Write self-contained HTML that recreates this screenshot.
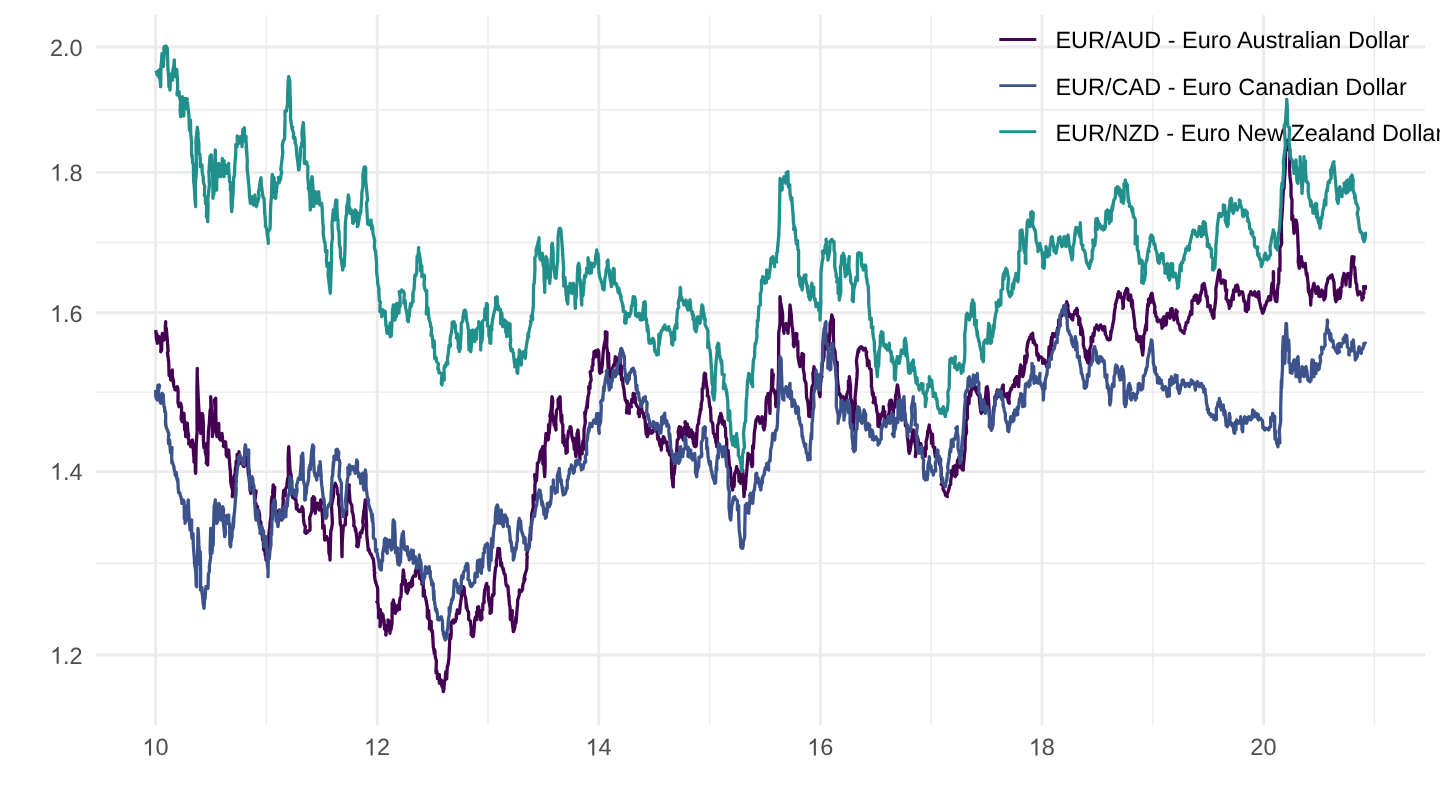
<!DOCTYPE html>
<html><head><meta charset="utf-8"><title>EUR exchange rates</title>
<style>html,body{margin:0;padding:0;background:#fff;overflow:hidden}svg{display:block;will-change:transform}body{font-family:"Liberation Sans",sans-serif}</style></head>
<body>
<svg width="1440" height="810" viewBox="0 0 1440 810">
<rect width="1440" height="810" fill="#fff"/>
<path d="M266.4 15.0 V724.8 M488.0 15.0 V724.8 M709.6 15.0 V724.8 M931.2 15.0 V724.8 M1152.8 15.0 V724.8 M1374.4 15.0 V724.8 M95.9 109.7 H1425.0 M95.9 242.5 H1425.0 M95.9 392.1 H1425.0 M95.9 563.3 H1425.0" stroke="#ebebeb" stroke-width="1.4" fill="none"/>
<path d="M155.6 15.0 V724.8 M377.2 15.0 V724.8 M598.8 15.0 V724.8 M820.4 15.0 V724.8 M1042.0 15.0 V724.8 M1263.6 15.0 V724.8 M95.9 47.0 H1425.0 M95.9 172.4 H1425.0 M95.9 312.6 H1425.0 M95.9 471.6 H1425.0 M95.9 655.0 H1425.0" stroke="#ebebeb" stroke-width="2.8" fill="none"/>
<g font-family="Liberation Sans, sans-serif" font-size="23.5" fill="#4d4d4d" text-rendering="geometricPrecision">
<text x="82.60" y="56.0" text-anchor="end">2.0</text>
<text x="82.60" y="180.8" text-anchor="end">.8</text>
<path transform="translate(49.93,180.8) scale(0.011475,-0.011475)" d="M763 0L583 0L583 1147Q518 1085 412.5 1023Q307 961 223 930L223 1104Q374 1175 487 1276Q600 1377 647 1466L763 1466Z"/>
<text x="82.60" y="321.9" text-anchor="end">.6</text>
<path transform="translate(49.93,321.9) scale(0.011475,-0.011475)" d="M763 0L583 0L583 1147Q518 1085 412.5 1023Q307 961 223 930L223 1104Q374 1175 487 1276Q600 1377 647 1466L763 1466Z"/>
<text x="82.60" y="479.8" text-anchor="end">.4</text>
<path transform="translate(49.93,479.8) scale(0.011475,-0.011475)" d="M763 0L583 0L583 1147Q518 1085 412.5 1023Q307 961 223 930L223 1104Q374 1175 487 1276Q600 1377 647 1466L763 1466Z"/>
<text x="82.60" y="663.8" text-anchor="end">.2</text>
<path transform="translate(49.93,663.8) scale(0.011475,-0.011475)" d="M763 0L583 0L583 1147Q518 1085 412.5 1023Q307 961 223 930L223 1104Q374 1175 487 1276Q600 1377 647 1466L763 1466Z"/>
<path transform="translate(142.33,755.4) scale(0.011475,-0.011475)" d="M763 0L583 0L583 1147Q518 1085 412.5 1023Q307 961 223 930L223 1104Q374 1175 487 1276Q600 1377 647 1466L763 1466Z"/>
<text x="155.40" y="755.4">0</text>
<path transform="translate(363.93,755.4) scale(0.011475,-0.011475)" d="M763 0L583 0L583 1147Q518 1085 412.5 1023Q307 961 223 930L223 1104Q374 1175 487 1276Q600 1377 647 1466L763 1466Z"/>
<text x="377.00" y="755.4">2</text>
<path transform="translate(585.53,755.4) scale(0.011475,-0.011475)" d="M763 0L583 0L583 1147Q518 1085 412.5 1023Q307 961 223 930L223 1104Q374 1175 487 1276Q600 1377 647 1466L763 1466Z"/>
<text x="598.60" y="755.4">4</text>
<path transform="translate(807.13,755.4) scale(0.011475,-0.011475)" d="M763 0L583 0L583 1147Q518 1085 412.5 1023Q307 961 223 930L223 1104Q374 1175 487 1276Q600 1377 647 1466L763 1466Z"/>
<text x="820.20" y="755.4">6</text>
<path transform="translate(1028.73,755.4) scale(0.011475,-0.011475)" d="M763 0L583 0L583 1147Q518 1085 412.5 1023Q307 961 223 930L223 1104Q374 1175 487 1276Q600 1377 647 1466L763 1466Z"/>
<text x="1041.80" y="755.4">8</text>
<text x="1263.4" y="755.4" text-anchor="middle">20</text>
</g>
<g font-family="Liberation Sans, sans-serif" font-size="23.5" fill="#000" text-rendering="geometricPrecision">
<path d="M999.3 39.5 H1036.3" stroke="#440154" stroke-width="2.8"/>
<text x="1055.4" y="48.0">EUR/AUD - Euro Australian Dollar</text>
<path d="M999.3 85.6 H1036.3" stroke="#3b528b" stroke-width="2.8"/>
<text x="1055.4" y="95.0">EUR/CAD - Euro Canadian Dollar</text>
<path d="M999.3 131.7 H1036.3" stroke="#21908c" stroke-width="2.8"/>
<text x="1055.4" y="141.0">EUR/NZD - Euro New Zealand Dollar</text>
</g>
<path d="M155.7 330.0 L156.7 340.6 L156.2 337.1 L156.9 333.9 L157.3 343.3 L157.1 337.5 L158.2 340.9 L158.2 340.5 L159.0 336.7 L159.4 340.4 L160.1 338.5 L161.3 349.7 L160.7 351.7 L161.0 348.2 L161.6 350.5 L161.8 343.0 L162.3 333.3 L163.2 335.9 L163.2 339.6 L163.8 334.0 L164.0 340.0 L164.7 335.8 L165.3 332.2 L165.3 326.0 L165.7 321.7 L165.6 330.0 L166.3 328.2 L166.9 335.6 L167.3 340.0 L168.1 351.2 L167.5 352.7 L168.7 361.7 L169.0 371.7 L169.1 375.5 L170.7 373.0 L170.7 380.0 L170.5 376.6 L171.5 372.3 L172.0 376.3 L172.3 370.0 L172.3 375.9 L173.7 382.1 L172.9 380.0 L174.0 386.7 L174.8 388.0 L174.8 389.6 L175.2 387.4 L175.7 390.0 L176.1 388.5 L176.7 387.5 L176.9 388.7 L177.3 386.7 L177.9 389.0 L178.1 392.2 L178.0 402.6 L179.0 406.7 L179.2 405.9 L179.7 405.5 L180.0 405.0 L180.7 403.3 L181.6 407.1 L181.5 413.2 L181.1 419.3 L182.3 421.7 L182.3 419.0 L182.7 419.8 L183.4 415.3 L184.0 413.3 L184.7 429.8 L184.7 421.1 L185.2 424.4 L185.7 436.7 L186.4 430.1 L186.3 425.1 L186.6 424.7 L187.3 423.3 L187.8 431.5 L188.7 435.5 L188.0 438.1 L189.0 440.0 L188.6 443.8 L190.7 443.0 L190.1 444.2 L190.7 446.7 L191.1 445.7 L191.2 443.5 L192.3 446.0 L192.3 440.0 L192.9 443.8 L193.6 454.3 L193.9 457.2 L194.0 460.0 L193.9 461.9 L195.3 463.4 L195.3 471.6 L195.7 473.3 L196.2 443.9 L197.1 431.6 L196.9 390.7 L197.3 368.3 L197.2 373.9 L198.2 397.1 L199.2 415.0 L199.0 423.3 L200.0 430.2 L199.3 425.1 L201.5 432.8 L200.7 433.3 L200.6 428.9 L202.2 421.5 L202.0 413.3 L202.8 415.0 L203.4 424.4 L203.4 440.3 L203.7 443.3 L203.9 447.7 L205.3 443.7 L205.9 444.8 L205.3 450.0 L205.3 452.8 L206.3 456.0 L206.6 460.3 L206.2 462.9 L207.7 465.0 L208.0 451.5 L207.6 456.0 L208.4 431.8 L209.3 423.3 L210.1 410.4 L210.9 408.1 L210.7 396.7 L211.2 403.3 L211.9 424.3 L212.4 424.8 L212.3 436.7 L213.6 428.1 L213.1 431.0 L214.0 428.2 L214.0 423.3 L214.4 420.7 L215.1 408.4 L214.5 399.7 L215.7 398.3 L215.9 416.2 L216.1 430.8 L217.0 436.7 L217.5 427.6 L218.6 431.0 L218.4 429.6 L218.7 423.3 L218.9 430.8 L218.9 432.2 L219.6 438.8 L220.3 440.0 L221.1 436.5 L220.7 439.0 L221.3 437.7 L222.0 433.3 L222.8 441.4 L222.9 441.5 L223.7 442.1 L223.7 446.7 L223.3 446.0 L225.0 442.4 L224.5 443.6 L225.3 441.7 L225.6 442.1 L226.3 453.6 L226.2 455.1 L227.0 456.7 L227.2 454.8 L228.6 451.9 L228.2 452.0 L228.7 450.0 L228.9 453.8 L230.1 469.4 L230.0 469.0 L230.3 470.0 L230.8 482.5 L231.5 486.3 L232.6 490.5 L232.3 496.7 L233.3 493.3 L234.0 478.6 L233.4 485.6 L234.0 476.7 L234.9 474.0 L235.2 475.0 L235.3 469.9 L235.7 466.7 L236.0 465.2 L236.2 461.0 L237.1 461.1 L237.3 460.0 L237.1 454.5 L238.1 458.4 L239.2 455.1 L239.0 451.7 L239.3 461.6 L239.2 453.9 L240.8 460.0 L240.7 463.3 L241.4 461.7 L241.7 462.4 L241.9 462.5 L242.3 460.0 L242.2 461.5 L243.0 465.6 L244.0 463.7 L244.0 466.7 L245.2 460.1 L244.6 465.7 L245.7 457.6 L245.7 456.7 L245.8 459.0 L246.6 460.0 L247.1 461.7 L247.3 463.3 L247.7 464.6 L248.5 475.3 L249.4 470.8 L249.0 476.7 L249.5 481.4 L250.3 489.3 L250.1 489.8 L250.7 493.3 L251.1 492.5 L250.4 491.2 L251.8 487.8 L252.7 483.3 L253.4 488.8 L253.3 489.5 L253.8 489.5 L254.3 490.0 L254.7 494.5 L256.1 491.0 L254.7 502.4 L256.0 503.3 L255.8 508.6 L256.6 505.6 L257.4 506.2 L257.7 510.0 L257.4 510.5 L258.7 511.6 L258.7 510.3 L259.3 513.3 L259.6 515.3 L259.8 525.9 L260.8 521.8 L261.0 530.0 L261.5 532.4 L261.5 531.2 L262.2 535.8 L262.7 540.0 L263.3 540.8 L263.7 548.3 L263.5 549.5 L264.3 550.0 L265.1 552.5 L265.2 555.1 L265.5 551.5 L266.0 560.0 L266.1 554.2 L266.3 551.2 L268.0 552.9 L268.0 550.0 L268.5 539.3 L269.3 529.6 L268.9 540.5 L270.0 523.3 L271.1 515.4 L271.1 512.4 L271.4 500.0 L272.0 496.7 L273.1 495.1 L272.6 492.8 L273.3 485.0 L273.0 485.7 L274.8 487.2 L274.2 498.1 L275.3 503.3 L275.1 514.1 L276.2 515.3 L277.1 515.2 L277.3 516.7 L278.4 516.1 L278.2 513.4 L278.2 511.1 L279.3 510.0 L280.3 511.1 L281.0 519.5 L281.2 512.5 L281.3 520.0 L281.2 517.8 L283.3 508.4 L282.8 508.0 L283.3 500.0 L283.0 499.1 L283.7 490.5 L285.2 495.6 L285.3 490.0 L285.7 488.4 L285.8 488.9 L286.7 486.7 L287.5 479.2 L288.4 476.6 L288.1 459.4 L288.7 446.7 L288.8 449.4 L289.8 466.0 L290.0 470.0 L291.2 475.9 L291.0 485.9 L291.5 486.4 L292.0 493.3 L292.1 495.0 L292.7 497.2 L294.0 496.1 L294.0 498.3 L295.1 498.8 L295.7 499.1 L294.7 499.1 L296.0 500.0 L296.4 508.9 L297.1 504.6 L296.9 508.3 L298.0 510.0 L298.7 511.1 L299.5 510.3 L300.0 510.3 L300.0 511.7 L300.2 510.1 L299.8 509.9 L301.9 510.6 L302.0 506.7 L302.3 507.3 L303.0 508.9 L303.5 518.9 L304.0 523.3 L304.7 525.5 L305.4 526.3 L304.8 532.5 L306.0 533.3 L306.5 532.8 L307.2 532.4 L307.5 532.5 L308.0 531.7 L308.0 530.9 L308.5 530.8 L309.5 530.4 L310.0 530.0 L310.1 527.1 L309.7 517.7 L311.8 511.3 L312.0 506.7 L312.1 498.3 L312.9 499.7 L313.3 496.7 L314.1 497.4 L314.8 498.6 L314.5 501.3 L315.3 513.3 L315.4 510.2 L316.4 506.8 L316.3 505.2 L317.3 503.3 L317.5 504.5 L317.9 504.5 L318.5 506.6 L319.3 510.0 L319.1 508.2 L319.7 506.4 L320.7 500.0 L321.5 502.4 L320.8 506.6 L322.1 511.9 L322.7 520.0 L322.7 528.2 L323.7 528.1 L324.1 525.7 L324.7 540.0 L325.4 537.1 L325.6 538.0 L326.1 539.0 L326.7 536.7 L326.7 537.0 L327.1 537.6 L328.5 542.4 L328.7 543.3 L328.9 552.5 L329.9 556.7 L330.0 560.0 L330.4 544.2 L330.8 530.5 L331.3 530.0 L332.4 523.2 L331.5 505.6 L333.4 496.5 L333.3 486.7 L334.4 486.2 L335.0 485.5 L334.5 485.9 L335.3 483.3 L337.0 488.1 L335.5 485.2 L337.0 487.8 L337.3 493.3 L337.6 493.9 L338.7 495.8 L338.5 504.1 L339.3 506.7 L339.6 509.3 L340.3 523.6 L340.5 524.5 L341.3 526.7 L342.0 556.7 L342.2 542.9 L342.8 533.4 L343.3 526.7 L344.4 524.9 L344.9 525.0 L345.5 524.4 L345.3 523.3 L345.5 515.7 L346.6 515.1 L346.8 500.8 L347.3 496.7 L348.0 494.5 L347.8 488.7 L349.0 488.2 L349.3 485.0 L349.0 487.9 L350.1 501.6 L350.7 503.3 L351.9 505.6 L352.1 511.8 L352.4 511.8 L352.7 513.3 L353.2 515.1 L354.0 522.3 L353.7 526.0 L354.7 526.7 L355.0 527.5 L355.3 530.5 L355.6 528.3 L356.7 536.7 L357.1 541.7 L356.7 546.2 L358.0 546.7 L358.9 541.0 L358.5 537.5 L360.0 537.4 L360.0 533.3 L360.2 532.6 L361.0 532.2 L362.0 532.8 L362.0 530.0 L362.7 529.4 L363.4 525.0 L362.7 521.6 L364.0 510.0 L364.5 508.6 L364.8 504.2 L365.3 500.0 L366.0 508.4 L366.3 519.0 L366.7 526.7 L366.5 527.1 L366.8 535.4 L368.0 546.7 L368.1 547.4 L368.1 550.2 L369.2 549.8 L370.0 553.3 L370.9 553.9 L370.8 554.4 L371.1 554.1 L372.0 556.7 L372.5 558.0 L373.4 559.3 L374.4 569.3 L374.0 570.0 L374.8 572.9 L374.3 574.2 L374.8 578.3 L376.0 583.3 L377.7 588.2 L377.8 601.8 L376.8 601.8 L378.0 603.3 L378.6 611.5 L378.5 617.8 L380.4 609.7 L380.0 626.7 L380.6 624.2 L381.1 616.8 L381.9 616.0 L382.0 613.3 L382.4 615.7 L383.0 614.7 L383.3 618.9 L384.0 620.0 L384.6 629.2 L384.6 626.9 L386.1 632.7 L386.0 635.0 L385.7 634.4 L387.4 625.2 L388.1 624.0 L388.0 620.0 L388.9 620.9 L387.9 630.1 L389.4 627.7 L390.0 633.3 L390.1 627.6 L390.9 630.1 L390.9 629.9 L392.0 623.3 L392.2 602.8 L392.6 610.3 L393.3 600.0 L394.2 606.3 L394.3 603.8 L395.3 605.8 L395.3 613.3 L396.1 610.3 L396.0 610.5 L397.2 610.5 L397.3 610.0 L398.5 605.3 L398.3 605.2 L399.6 609.3 L399.3 603.3 L400.2 597.7 L400.9 597.0 L401.0 595.9 L401.3 590.0 L401.3 584.5 L401.4 585.9 L402.5 583.9 L403.3 570.0 L404.2 576.7 L403.7 577.5 L404.1 579.2 L405.3 580.0 L405.4 583.2 L406.1 591.6 L407.1 584.9 L407.3 593.3 L407.8 590.5 L408.6 590.0 L408.3 583.9 L409.3 583.3 L409.7 585.7 L410.7 585.6 L410.9 585.9 L411.3 586.7 L411.7 580.2 L412.6 585.3 L412.4 578.2 L413.3 576.7 L413.9 576.2 L413.8 575.7 L415.6 576.1 L415.3 571.7 L415.9 569.8 L415.8 570.8 L417.8 563.8 L417.3 563.3 L417.3 567.4 L418.0 572.9 L418.3 567.9 L419.3 573.3 L419.6 578.4 L419.5 575.4 L420.8 578.7 L421.3 580.0 L422.5 583.7 L421.8 584.0 L422.9 580.9 L423.3 586.7 L423.3 596.0 L424.3 590.2 L424.4 595.6 L425.3 596.7 L426.2 600.8 L426.3 601.4 L427.1 605.8 L427.3 606.7 L427.3 617.1 L428.2 618.7 L428.6 610.3 L429.3 620.0 L429.7 622.8 L429.3 628.8 L431.2 621.4 L431.3 630.0 L432.2 632.5 L432.3 630.7 L432.5 631.8 L433.3 646.7 L434.4 653.0 L434.3 653.3 L434.7 649.6 L435.3 656.7 L436.4 661.1 L435.9 672.7 L436.2 669.2 L437.3 673.3 L437.5 678.7 L438.5 677.1 L439.4 674.8 L439.3 683.3 L439.9 680.5 L440.4 680.4 L441.2 681.1 L441.3 680.0 L441.9 686.4 L443.2 685.0 L442.6 684.8 L443.3 691.7 L443.8 690.3 L444.3 683.4 L444.4 680.8 L445.3 680.0 L445.3 677.8 L445.8 671.7 L446.7 678.8 L447.3 666.7 L448.0 665.0 L448.3 662.9 L448.9 658.4 L449.3 650.0 L450.0 634.6 L450.8 633.9 L450.7 638.7 L451.3 633.3 L450.9 623.0 L452.2 621.1 L453.7 623.1 L453.3 620.0 L453.8 621.3 L454.2 621.3 L454.6 620.7 L455.3 621.7 L456.2 618.3 L456.4 613.8 L456.2 619.1 L457.3 610.0 L457.7 610.3 L458.8 611.8 L459.3 611.6 L459.3 613.3 L459.7 610.6 L460.2 605.2 L461.5 596.4 L461.3 593.3 L462.4 593.0 L462.8 590.2 L462.8 591.7 L463.3 586.7 L463.9 592.3 L464.2 587.7 L464.4 594.5 L465.3 596.7 L465.8 599.3 L466.3 607.8 L466.3 603.6 L467.3 610.0 L468.4 611.8 L468.6 613.1 L468.6 619.6 L469.3 620.0 L470.5 621.2 L470.5 622.3 L471.4 629.7 L471.3 630.0 L471.1 634.6 L472.1 631.4 L472.7 636.7 L473.5 636.0 L474.3 626.5 L474.5 623.7 L474.7 620.0 L475.5 617.0 L476.2 617.6 L477.0 619.5 L476.7 616.7 L476.6 612.0 L477.8 616.2 L477.6 607.3 L478.7 606.7 L478.3 614.5 L480.1 610.3 L480.4 615.2 L480.7 620.0 L481.4 619.5 L482.0 618.7 L481.6 610.6 L482.7 610.0 L482.9 603.4 L484.2 602.6 L483.9 599.4 L484.7 590.0 L485.2 589.1 L486.3 584.5 L486.3 587.5 L486.7 583.3 L486.0 585.4 L488.2 586.9 L488.2 594.6 L488.7 600.0 L489.3 602.8 L490.3 608.8 L490.0 613.3 L490.4 608.5 L491.3 612.3 L491.7 604.8 L492.0 596.7 L492.6 594.8 L493.0 595.8 L494.1 594.0 L494.0 590.0 L494.2 581.5 L494.7 576.1 L495.5 567.6 L496.0 566.7 L496.4 566.0 L496.4 560.6 L497.0 557.2 L498.0 548.3 L498.2 553.6 L498.4 549.3 L499.4 548.7 L500.0 556.7 L500.4 558.7 L500.6 565.1 L501.5 562.5 L502.0 566.7 L502.5 567.6 L503.5 571.1 L503.4 568.7 L504.0 573.3 L505.0 575.0 L505.1 574.4 L505.8 582.0 L506.0 583.3 L506.0 584.5 L506.8 586.3 L506.8 585.1 L508.0 586.7 L508.6 596.4 L508.8 595.1 L509.4 604.3 L510.0 606.7 L510.3 612.8 L510.3 619.4 L512.3 610.6 L512.0 620.0 L513.2 630.3 L513.2 622.9 L513.3 631.7 L514.2 629.7 L515.0 626.5 L514.3 627.3 L515.3 623.3 L515.9 617.0 L516.0 623.0 L517.2 607.8 L517.3 606.7 L517.5 605.9 L517.7 599.9 L519.3 594.9 L519.3 590.0 L520.2 591.1 L520.5 590.3 L521.0 590.3 L521.3 591.7 L521.8 590.9 L522.5 589.7 L522.8 585.2 L523.3 583.3 L525.1 578.9 L524.0 581.4 L524.0 578.9 L525.3 573.3 L526.7 569.5 L526.9 565.5 L527.0 558.8 L527.3 556.7 L526.8 554.6 L529.2 543.1 L529.4 540.8 L529.3 540.0 L529.8 535.7 L530.5 539.6 L531.1 527.2 L531.3 526.7 L531.4 524.1 L531.7 513.8 L532.8 509.8 L533.3 506.7 L533.0 495.3 L534.9 499.4 L534.9 484.0 L535.3 483.3 L534.6 474.6 L536.5 480.6 L537.4 465.6 L537.3 463.3 L538.5 462.1 L538.6 462.4 L538.7 461.9 L539.3 460.0 L539.3 458.7 L540.4 451.6 L540.1 453.7 L541.3 450.0 L542.2 449.5 L542.1 448.8 L542.7 446.7 L542.8 463.8 L544.0 465.4 L544.2 470.2 L544.7 476.7 L545.2 465.7 L544.9 448.7 L546.0 433.3 L546.1 436.0 L548.0 437.3 L546.5 437.8 L548.0 440.0 L548.6 438.6 L548.5 424.6 L549.2 433.5 L550.0 423.3 L550.5 416.2 L549.8 416.1 L551.1 410.3 L552.0 396.7 L552.8 401.0 L552.0 412.4 L553.4 420.1 L554.0 423.3 L554.2 425.3 L555.4 426.3 L555.2 426.9 L556.0 430.0 L555.8 419.9 L556.5 410.4 L558.3 407.6 L558.0 400.0 L558.9 398.2 L559.4 398.1 L559.1 397.9 L560.0 396.7 L560.5 407.5 L561.1 421.2 L561.8 414.9 L562.0 423.3 L562.8 424.7 L562.9 442.8 L564.0 435.4 L564.0 443.3 L564.7 445.8 L565.1 445.2 L565.8 446.7 L566.0 453.3 L567.3 452.3 L567.2 442.6 L567.1 440.6 L568.0 436.7 L567.9 435.5 L568.6 431.0 L569.8 431.7 L570.0 426.7 L570.8 427.1 L571.1 428.3 L571.8 436.1 L572.0 436.7 L573.3 442.2 L572.9 437.8 L573.9 438.4 L574.0 446.7 L574.2 449.1 L575.2 448.6 L575.4 452.7 L576.0 456.7 L576.3 450.4 L576.6 443.2 L577.0 433.6 L578.0 430.0 L578.9 442.3 L579.2 449.3 L579.7 449.1 L580.0 460.0 L579.4 450.8 L581.7 451.8 L582.2 453.8 L582.0 450.0 L583.0 441.0 L583.4 449.3 L584.0 436.6 L584.0 430.0 L585.3 422.4 L584.7 412.5 L585.2 415.1 L586.0 410.0 L586.8 405.6 L587.8 398.6 L587.3 407.6 L588.0 396.7 L589.0 392.9 L588.7 386.7 L590.0 388.4 L590.0 383.3 L591.2 380.0 L590.2 371.9 L592.2 370.3 L592.0 366.7 L593.0 364.9 L593.0 359.2 L593.7 358.2 L594.0 351.7 L594.1 353.2 L595.1 353.9 L596.1 354.9 L596.0 356.7 L595.6 350.7 L597.0 354.0 L597.3 355.1 L598.0 350.0 L598.7 351.9 L599.5 371.7 L599.9 372.4 L600.0 373.3 L600.5 370.5 L601.8 371.9 L601.3 371.5 L602.0 366.7 L602.4 363.8 L602.9 355.8 L603.7 347.4 L604.0 346.7 L604.3 344.4 L605.4 339.4 L605.3 331.7 L605.8 332.6 L607.0 332.4 L606.7 346.5 L607.3 350.0 L608.2 368.7 L608.6 353.1 L609.1 373.9 L609.3 380.0 L609.6 378.8 L610.5 378.2 L610.8 377.7 L611.3 376.7 L612.7 370.5 L611.5 375.0 L612.5 367.5 L613.3 366.7 L613.5 364.8 L614.1 365.0 L614.6 364.2 L615.3 356.7 L616.1 359.2 L616.6 361.8 L616.4 357.4 L617.3 370.0 L618.7 365.5 L617.5 366.9 L619.5 361.1 L618.5 360.9 L619.9 360.9 L620.0 353.3 L620.5 374.3 L621.3 365.8 L621.3 376.7 L621.6 379.9 L622.1 377.7 L622.2 377.5 L623.3 386.7 L624.0 388.9 L624.3 393.5 L625.2 399.3 L625.3 400.0 L626.8 402.2 L626.5 402.6 L627.3 401.1 L627.3 403.3 L626.5 412.9 L627.8 412.9 L628.9 412.7 L629.3 413.3 L629.2 404.3 L631.5 406.8 L630.7 406.2 L631.3 403.3 L631.7 399.3 L633.3 401.8 L633.0 395.6 L633.3 393.3 L634.5 393.7 L634.6 396.4 L635.3 397.5 L635.3 400.0 L635.5 401.4 L635.5 402.8 L636.7 405.7 L637.3 406.7 L638.8 408.5 L638.1 413.7 L639.0 409.5 L639.3 416.7 L639.7 413.3 L641.0 405.7 L640.7 407.9 L641.3 403.3 L641.5 406.2 L642.0 412.7 L642.8 412.3 L643.3 413.3 L644.0 417.9 L644.2 415.7 L645.1 420.5 L645.3 423.3 L646.2 434.1 L647.3 424.9 L646.5 432.7 L647.3 436.7 L647.8 435.2 L648.3 433.9 L649.4 430.3 L649.3 428.3 L649.9 431.6 L650.8 430.5 L651.0 431.1 L651.3 433.3 L652.2 433.0 L652.4 431.4 L653.2 431.9 L653.3 430.0 L654.1 429.2 L654.0 425.1 L654.6 428.9 L655.3 423.3 L655.8 424.7 L656.4 431.1 L656.4 425.4 L657.3 433.3 L657.7 439.1 L657.9 435.5 L659.0 438.3 L659.3 440.0 L659.1 440.7 L660.1 446.0 L660.6 441.4 L661.3 450.0 L661.8 440.3 L661.8 439.7 L662.4 443.8 L663.3 436.7 L664.0 440.3 L663.8 437.0 L664.5 438.4 L665.3 441.7 L665.6 442.7 L666.9 442.2 L667.0 444.7 L667.3 446.7 L667.6 450.6 L668.6 449.2 L668.5 450.5 L669.3 453.3 L669.5 454.5 L670.6 455.6 L671.5 455.2 L671.3 463.3 L671.9 478.5 L671.9 474.7 L672.9 485.9 L673.3 486.7 L673.4 470.8 L674.1 474.7 L674.9 466.6 L675.3 456.7 L675.8 453.8 L676.8 455.2 L676.7 451.6 L677.3 440.0 L679.0 438.2 L678.1 432.1 L678.3 430.7 L679.3 426.7 L679.6 428.2 L680.8 428.7 L680.8 427.2 L681.3 433.3 L681.7 436.1 L683.3 439.4 L682.4 434.0 L683.3 440.0 L683.6 432.5 L684.5 427.3 L685.9 436.1 L685.3 421.7 L684.9 422.6 L686.3 423.9 L687.3 424.0 L687.3 426.7 L687.7 428.6 L688.7 427.3 L688.5 435.1 L689.3 436.7 L690.4 432.7 L690.1 430.5 L690.7 431.3 L691.3 430.0 L691.9 437.0 L692.6 438.9 L692.8 432.3 L693.3 440.0 L693.1 441.6 L694.3 446.0 L695.1 443.0 L695.3 446.7 L696.2 445.9 L696.3 433.2 L696.3 445.5 L697.3 426.7 L697.8 424.5 L698.6 423.8 L698.7 420.3 L699.3 416.7 L699.9 414.0 L700.4 409.4 L700.9 410.5 L701.3 403.3 L702.2 399.8 L702.2 388.6 L703.1 388.7 L703.3 383.3 L703.6 383.0 L704.1 375.3 L704.7 373.3 L705.6 373.9 L705.7 384.1 L705.6 377.3 L706.7 386.7 L707.4 389.8 L707.6 393.9 L707.3 395.9 L708.7 396.7 L709.8 407.3 L709.8 406.1 L710.6 408.0 L710.7 413.3 L710.9 415.2 L711.0 420.7 L712.4 422.8 L712.7 423.3 L712.9 426.6 L713.4 433.4 L714.5 434.2 L714.7 436.7 L715.6 439.1 L715.8 441.7 L716.5 444.1 L716.7 446.7 L717.6 437.2 L717.2 441.7 L717.6 425.4 L718.7 423.3 L719.5 416.7 L720.5 418.7 L719.5 422.4 L720.7 413.3 L721.0 413.8 L722.0 417.0 L721.8 418.3 L722.7 420.0 L722.7 424.3 L723.2 423.5 L724.3 421.4 L724.7 426.7 L725.5 428.2 L725.7 436.7 L726.7 439.4 L726.7 440.0 L726.7 450.3 L728.1 452.6 L728.0 450.4 L728.7 456.7 L729.5 468.5 L730.3 467.5 L730.9 476.0 L730.7 476.7 L731.6 477.8 L731.4 480.9 L731.7 485.9 L732.7 490.0 L733.0 485.0 L734.2 484.8 L734.1 486.5 L734.7 473.3 L735.6 473.0 L735.5 471.6 L735.5 472.6 L736.7 466.7 L736.5 470.6 L737.3 468.9 L738.9 472.2 L738.7 476.7 L739.2 481.5 L738.9 480.6 L740.5 482.4 L740.7 483.3 L740.8 482.9 L741.9 471.6 L742.5 481.2 L742.7 470.0 L743.1 478.7 L743.7 490.5 L744.0 496.7 L745.2 483.6 L745.3 489.6 L746.0 479.1 L746.0 476.7 L746.2 476.3 L746.7 471.7 L747.9 456.5 L748.0 453.3 L748.3 455.0 L749.0 454.7 L749.6 454.8 L750.0 456.7 L751.2 461.6 L751.2 464.4 L751.9 466.2 L752.0 466.7 L752.6 465.1 L752.6 445.8 L753.4 448.3 L754.0 440.0 L754.3 432.7 L755.5 425.3 L754.9 429.4 L756.0 420.0 L756.5 419.7 L757.5 417.1 L757.5 418.4 L758.0 416.7 L758.9 418.2 L759.1 421.2 L760.2 418.9 L760.0 423.3 L759.9 421.6 L760.4 419.8 L761.3 418.6 L762.0 416.7 L762.6 418.1 L763.3 428.2 L763.4 427.4 L764.0 430.0 L764.9 425.5 L765.8 411.9 L765.9 409.9 L766.0 403.3 L766.6 396.9 L767.6 396.0 L767.6 401.1 L768.0 393.3 L768.4 401.9 L769.5 397.5 L769.3 401.6 L770.0 413.3 L770.1 395.9 L771.4 389.0 L771.8 375.4 L772.0 370.0 L772.1 373.8 L773.3 374.4 L772.5 388.1 L774.0 390.0 L775.2 394.6 L775.7 398.5 L775.6 404.8 L776.0 406.7 L776.2 394.6 L776.6 405.2 L777.3 391.6 L778.0 390.0 L778.5 373.8 L778.7 333.4 L780.0 323.8 L780.0 296.7 L780.7 308.6 L780.6 306.4 L780.9 303.5 L782.0 310.0 L782.7 315.0 L782.6 322.0 L783.9 330.7 L784.0 333.3 L783.5 330.5 L784.5 329.5 L786.0 328.6 L786.0 323.3 L786.5 329.6 L786.9 329.8 L787.1 327.3 L788.0 333.3 L788.4 326.4 L789.2 322.8 L789.5 317.1 L790.0 305.0 L791.4 315.7 L790.7 311.7 L791.3 315.6 L792.0 326.7 L792.6 328.3 L793.5 341.0 L793.3 344.8 L794.0 346.7 L794.1 344.4 L795.0 340.4 L795.5 339.5 L796.0 333.3 L796.9 333.9 L796.4 344.1 L797.8 341.2 L798.0 356.7 L798.8 361.2 L799.2 363.8 L799.8 365.2 L800.0 366.7 L800.6 360.0 L801.3 357.1 L801.6 360.3 L802.0 353.3 L802.4 364.4 L803.6 354.4 L803.2 368.9 L804.0 373.3 L804.3 373.9 L804.4 379.6 L805.3 381.4 L806.0 383.3 L806.4 392.0 L806.6 397.4 L807.4 400.3 L808.0 403.3 L808.7 412.6 L808.8 416.2 L809.5 410.0 L810.0 416.7 L810.4 403.4 L810.5 409.8 L811.5 391.0 L812.0 386.7 L813.5 383.7 L812.8 373.1 L813.2 373.1 L814.0 366.7 L814.8 370.9 L815.1 371.7 L815.6 372.5 L816.0 373.3 L816.8 374.2 L817.1 378.1 L817.5 375.2 L818.0 383.3 L818.1 386.4 L818.8 385.1 L819.2 393.4 L820.0 396.7 L820.5 385.6 L821.1 378.9 L821.4 377.0 L822.0 376.7 L821.5 375.5 L822.8 358.1 L823.1 360.9 L824.0 356.7 L824.2 345.6 L825.0 338.5 L825.4 335.3 L826.0 333.3 L826.8 337.7 L826.8 337.6 L826.5 348.2 L828.0 350.0 L828.1 345.3 L828.9 345.6 L830.0 330.4 L830.0 330.0 L830.0 323.2 L830.0 325.4 L831.6 317.8 L831.7 315.0 L832.5 316.9 L832.3 322.2 L833.5 319.5 L833.3 333.3 L833.7 346.6 L833.5 347.3 L835.0 351.2 L835.3 356.7 L835.5 357.4 L836.0 365.3 L837.2 362.3 L837.3 376.7 L838.1 385.6 L838.8 389.6 L837.5 387.4 L839.3 393.3 L839.6 395.0 L840.6 395.0 L840.3 394.3 L841.3 400.0 L841.7 397.0 L842.6 398.8 L842.8 399.2 L843.3 396.7 L843.8 400.3 L844.2 397.9 L845.1 402.4 L845.3 403.3 L845.2 403.0 L846.6 397.0 L847.0 393.8 L847.3 393.3 L848.4 389.8 L848.4 380.9 L849.1 386.7 L849.3 376.7 L849.7 379.6 L850.5 386.1 L850.6 398.3 L851.3 400.0 L852.0 413.4 L852.2 401.6 L852.5 421.8 L853.3 430.0 L853.8 423.8 L854.2 416.0 L854.6 411.5 L855.3 403.3 L855.0 398.0 L856.1 387.1 L857.0 376.2 L857.3 370.0 L856.4 361.1 L858.2 349.8 L858.6 352.2 L859.3 348.3 L860.1 347.3 L859.9 347.5 L861.3 348.0 L861.3 346.7 L862.0 347.8 L862.4 348.4 L862.4 347.6 L863.3 350.0 L863.4 349.4 L864.6 348.6 L864.8 348.9 L865.3 348.3 L866.2 352.4 L866.8 352.0 L866.2 354.3 L867.3 360.0 L867.4 365.7 L868.3 362.1 L869.0 361.0 L869.3 366.7 L869.7 368.6 L871.0 369.4 L871.5 381.9 L871.3 386.7 L871.9 387.3 L872.4 394.8 L873.3 392.8 L873.3 396.7 L873.9 399.8 L873.1 402.6 L875.0 397.5 L875.3 403.3 L875.7 404.0 L876.2 406.0 L876.6 410.1 L877.3 413.3 L877.7 415.1 L878.0 426.1 L878.9 414.3 L879.3 426.7 L879.9 422.4 L879.8 420.2 L881.0 417.6 L881.3 416.7 L882.4 412.3 L882.8 415.2 L883.1 414.5 L883.3 406.7 L883.7 414.3 L884.9 411.8 L884.6 412.7 L885.3 423.3 L885.9 421.3 L886.1 418.9 L886.5 419.7 L887.3 418.3 L889.3 412.4 L889.4 403.8 L888.9 405.7 L889.3 403.3 L890.1 402.3 L889.9 400.7 L890.7 400.9 L891.3 400.0 L891.8 402.9 L891.7 408.9 L893.2 405.2 L893.3 416.7 L893.5 407.2 L894.1 404.5 L894.9 407.1 L895.3 400.0 L895.7 394.7 L896.0 394.8 L896.2 394.0 L897.3 385.0 L897.7 385.5 L899.3 397.7 L898.8 399.0 L899.3 403.3 L900.1 406.5 L900.0 418.5 L901.7 415.5 L901.3 420.0 L901.7 414.9 L902.2 415.4 L902.8 414.4 L903.3 413.3 L905.0 414.5 L903.8 415.5 L905.3 420.7 L905.3 423.3 L905.4 425.6 L905.4 424.4 L907.0 426.0 L907.3 436.7 L907.7 439.1 L908.1 443.2 L908.9 451.8 L909.3 453.3 L910.0 450.7 L911.1 442.8 L911.1 445.0 L911.3 440.0 L911.7 439.0 L912.9 430.8 L912.7 431.2 L913.3 430.0 L914.3 441.6 L915.2 443.5 L915.9 448.8 L915.3 456.7 L915.9 454.6 L916.8 445.2 L917.2 439.8 L917.3 436.7 L918.5 441.1 L918.5 441.0 L918.4 442.7 L919.3 443.3 L919.5 445.7 L921.1 445.5 L920.8 443.6 L921.3 446.7 L922.9 450.8 L923.0 449.0 L923.1 452.6 L923.3 456.7 L924.5 454.7 L924.3 454.8 L925.3 456.3 L925.3 450.0 L925.4 446.8 L926.3 449.0 L926.1 441.5 L927.3 436.7 L927.8 430.7 L927.7 433.8 L928.9 426.8 L929.3 425.0 L929.3 427.7 L930.2 431.0 L930.3 431.6 L931.3 433.3 L931.4 443.3 L932.5 434.1 L933.0 446.1 L933.3 446.7 L933.7 447.4 L934.8 447.4 L934.3 448.1 L935.3 456.7 L936.1 454.3 L936.7 455.8 L936.1 456.3 L937.3 453.3 L938.0 457.5 L938.9 456.1 L938.6 458.6 L939.3 463.3 L940.4 465.7 L941.2 468.9 L941.3 473.6 L941.3 476.7 L942.4 483.9 L941.3 484.5 L942.8 485.1 L943.3 486.7 L943.0 489.0 L943.8 490.7 L944.5 491.7 L945.3 493.3 L945.4 495.1 L946.3 495.8 L946.7 494.5 L947.3 496.7 L946.6 495.6 L948.4 491.0 L948.9 489.3 L949.3 486.7 L949.4 485.9 L950.7 484.5 L950.7 480.9 L951.3 476.7 L951.6 470.5 L952.4 473.9 L952.9 473.4 L953.3 466.7 L954.4 467.0 L953.7 469.2 L954.6 476.1 L955.3 476.7 L955.2 465.3 L956.9 470.0 L956.8 474.6 L957.3 463.3 L957.5 460.6 L958.3 459.6 L959.2 457.1 L959.3 456.7 L960.0 463.3 L960.4 467.7 L960.3 466.4 L961.5 467.7 L961.7 468.3 L962.4 469.7 L962.8 469.6 L962.6 468.9 L963.3 470.0 L963.3 466.5 L965.2 447.6 L965.0 445.4 L965.3 436.7 L966.6 432.1 L966.0 421.6 L967.5 418.2 L967.3 410.0 L967.8 397.1 L968.4 400.8 L969.0 403.7 L969.3 396.7 L969.7 391.3 L970.3 392.7 L970.7 395.9 L971.3 390.0 L971.7 388.3 L972.5 389.3 L972.1 389.0 L973.5 388.2 L973.7 388.0 L974.1 387.6 L974.4 388.2 L975.1 389.1 L975.3 386.7 L976.1 387.0 L976.0 391.1 L977.6 394.2 L976.6 388.4 L977.5 391.6 L978.0 394.7 L979.0 395.2 L978.0 394.0 L979.3 396.7 L979.8 403.9 L980.4 408.5 L980.7 411.2 L981.3 413.3 L981.8 410.7 L982.4 412.2 L983.4 410.6 L983.3 410.0 L983.4 408.3 L984.3 400.3 L985.3 405.0 L985.3 400.0 L986.4 387.1 L986.4 393.7 L987.0 394.7 L987.3 386.7 L988.3 394.4 L987.8 407.7 L988.4 397.8 L989.3 413.3 L989.7 419.0 L990.1 420.4 L991.1 421.1 L991.3 430.0 L992.0 424.8 L993.0 423.5 L992.6 426.9 L993.3 410.0 L993.9 407.2 L994.8 406.2 L994.8 397.1 L995.3 396.7 L996.1 394.8 L996.6 393.1 L996.8 392.2 L997.3 390.0 L997.0 394.1 L998.5 394.6 L998.9 392.5 L999.3 396.7 L999.3 395.9 L999.4 395.7 L1000.7 395.7 L1001.3 390.0 L1001.7 389.6 L1002.8 385.4 L1002.8 386.7 L1003.3 385.0 L1003.3 391.0 L1003.9 394.8 L1004.7 395.0 L1005.3 396.7 L1005.8 394.4 L1006.8 394.8 L1007.3 395.6 L1007.3 393.3 L1007.4 396.9 L1008.5 402.5 L1008.8 399.3 L1009.3 403.3 L1008.8 399.9 L1009.7 392.2 L1010.7 390.0 L1011.0 388.2 L1011.6 389.3 L1011.8 387.3 L1012.7 386.7 L1012.8 384.8 L1013.5 386.0 L1014.8 386.4 L1014.7 383.3 L1014.5 380.3 L1015.7 377.9 L1016.1 381.3 L1016.7 376.7 L1017.3 378.9 L1018.0 384.8 L1017.9 382.3 L1018.7 386.7 L1018.9 381.0 L1020.1 369.4 L1019.7 371.5 L1020.7 365.0 L1020.7 370.2 L1020.9 365.8 L1021.9 367.1 L1022.7 376.7 L1023.1 375.4 L1023.7 373.3 L1024.7 367.1 L1024.7 366.7 L1024.7 356.2 L1025.8 363.3 L1027.3 355.3 L1026.7 350.0 L1027.9 341.8 L1027.6 344.7 L1028.1 342.1 L1028.7 340.0 L1029.2 338.8 L1029.8 337.1 L1030.2 338.9 L1030.7 336.7 L1031.0 334.6 L1031.4 336.2 L1031.9 335.3 L1032.7 333.3 L1033.1 341.3 L1033.1 342.6 L1033.7 339.7 L1034.7 343.3 L1035.1 344.8 L1036.5 345.1 L1036.6 349.2 L1036.7 353.3 L1036.9 355.0 L1038.0 356.6 L1038.1 353.7 L1038.7 360.0 L1039.2 357.4 L1039.6 357.2 L1040.6 357.0 L1040.7 356.7 L1040.3 357.4 L1041.5 357.3 L1042.6 358.5 L1042.7 363.3 L1042.7 361.3 L1043.8 361.8 L1043.9 360.7 L1044.7 360.0 L1045.0 363.4 L1045.6 363.2 L1046.2 365.0 L1046.7 366.7 L1047.0 365.2 L1048.0 365.1 L1048.3 360.3 L1048.7 356.7 L1049.0 347.0 L1049.5 352.1 L1050.3 354.7 L1050.7 346.7 L1050.9 343.1 L1051.5 337.4 L1051.6 345.9 L1052.7 333.3 L1053.0 336.1 L1054.1 334.0 L1054.3 333.8 L1054.7 336.7 L1055.5 334.8 L1055.2 334.5 L1056.4 334.0 L1056.7 333.3 L1057.5 328.0 L1057.6 331.7 L1057.5 331.6 L1058.7 326.7 L1058.6 320.0 L1060.2 325.7 L1060.0 320.6 L1060.7 316.7 L1062.2 315.5 L1062.3 314.0 L1061.8 315.9 L1062.7 310.0 L1062.8 309.5 L1063.5 309.4 L1064.5 308.3 L1064.7 306.7 L1065.1 305.2 L1065.9 305.6 L1067.0 305.9 L1066.7 301.7 L1067.4 304.6 L1068.1 305.6 L1067.7 308.1 L1068.7 313.3 L1069.5 315.6 L1068.7 316.3 L1070.0 314.1 L1070.7 316.7 L1071.2 317.7 L1071.7 318.9 L1071.7 318.6 L1072.7 320.0 L1073.1 314.4 L1073.5 314.9 L1074.6 313.3 L1074.7 311.7 L1075.4 310.3 L1076.4 310.3 L1076.8 309.3 L1076.7 308.3 L1077.3 315.7 L1077.4 309.6 L1077.3 315.8 L1078.7 316.7 L1078.8 324.7 L1079.9 318.6 L1079.8 323.2 L1080.7 325.0 L1080.6 334.3 L1081.0 326.5 L1082.4 330.6 L1082.7 335.0 L1083.4 338.1 L1083.3 338.5 L1083.3 345.3 L1084.7 350.0 L1085.2 353.5 L1085.3 357.2 L1085.7 350.3 L1086.7 360.0 L1087.5 361.0 L1087.9 360.3 L1087.7 362.6 L1088.7 363.3 L1088.6 351.2 L1090.2 359.2 L1089.6 349.6 L1090.7 346.7 L1091.1 345.3 L1091.0 337.2 L1092.8 341.4 L1092.7 336.7 L1093.3 333.1 L1094.1 335.6 L1094.1 333.8 L1094.7 330.0 L1094.8 327.8 L1095.7 327.4 L1095.5 328.8 L1096.7 325.0 L1097.4 326.4 L1096.9 326.6 L1097.9 328.6 L1098.7 330.0 L1098.9 326.9 L1100.0 327.0 L1100.2 328.0 L1100.7 325.0 L1100.5 326.5 L1102.3 326.5 L1102.3 326.8 L1102.7 330.0 L1103.2 329.3 L1103.5 328.9 L1104.3 328.6 L1104.7 326.7 L1105.3 334.3 L1105.5 332.8 L1105.3 333.9 L1106.7 336.7 L1107.1 338.7 L1107.4 339.2 L1107.8 338.8 L1108.7 340.0 L1109.0 339.3 L1109.3 339.6 L1110.1 339.7 L1110.7 336.7 L1110.8 331.3 L1110.8 334.1 L1112.0 328.6 L1112.7 325.0 L1113.2 322.4 L1113.8 319.8 L1114.1 315.0 L1114.7 310.0 L1115.5 306.6 L1115.2 304.6 L1115.7 303.7 L1116.7 300.0 L1117.9 295.5 L1118.3 297.1 L1117.6 294.7 L1118.7 291.7 L1118.5 294.7 L1120.2 293.2 L1120.4 295.1 L1120.7 296.7 L1120.8 297.5 L1122.2 298.2 L1123.2 307.8 L1122.7 308.3 L1123.4 307.1 L1123.5 297.3 L1123.8 299.9 L1124.7 293.3 L1125.6 291.4 L1125.9 290.3 L1126.3 290.5 L1126.7 288.3 L1127.7 289.3 L1128.0 295.6 L1127.9 299.2 L1128.7 300.0 L1129.9 295.6 L1129.7 296.9 L1130.8 299.5 L1130.7 295.0 L1131.6 306.3 L1132.0 300.1 L1132.3 301.0 L1132.7 306.7 L1132.4 307.8 L1133.0 309.2 L1134.5 321.5 L1134.7 323.3 L1134.8 328.2 L1135.1 328.2 L1136.4 333.0 L1136.7 333.3 L1136.7 339.6 L1137.6 336.7 L1138.3 335.9 L1138.7 341.7 L1138.5 341.0 L1140.6 338.6 L1140.5 340.6 L1140.7 336.7 L1140.8 339.2 L1141.4 347.5 L1141.9 349.6 L1142.7 355.0 L1143.5 346.9 L1143.3 345.8 L1143.8 335.0 L1144.7 333.3 L1144.9 330.0 L1146.1 324.0 L1146.5 329.9 L1146.7 316.7 L1146.9 315.6 L1147.7 304.1 L1148.3 306.4 L1148.7 303.3 L1148.5 299.1 L1150.3 302.6 L1149.6 299.1 L1150.7 296.7 L1150.7 295.7 L1151.4 293.7 L1152.0 293.3 L1153.0 299.8 L1152.6 302.1 L1153.3 301.0 L1154.0 303.3 L1154.9 306.8 L1154.5 312.8 L1155.2 311.2 L1156.0 316.7 L1157.0 317.4 L1157.1 320.7 L1157.2 321.0 L1158.0 321.7 L1158.2 320.4 L1159.3 320.7 L1159.8 320.7 L1160.0 320.0 L1161.4 321.5 L1160.8 321.3 L1161.9 325.9 L1162.0 328.3 L1162.1 327.0 L1163.4 326.3 L1162.6 319.1 L1164.0 316.7 L1164.0 321.4 L1165.8 323.8 L1165.6 322.2 L1166.0 325.0 L1166.4 323.4 L1166.9 313.7 L1167.6 313.9 L1168.0 313.3 L1168.0 315.5 L1169.0 316.2 L1169.9 317.3 L1170.0 318.3 L1170.8 308.8 L1171.0 311.8 L1171.6 316.4 L1172.0 308.3 L1173.2 316.3 L1172.2 313.9 L1173.3 314.2 L1174.0 320.0 L1174.1 318.6 L1175.1 315.9 L1176.2 315.0 L1176.0 310.0 L1175.9 310.5 L1177.3 311.6 L1176.6 314.3 L1178.0 323.3 L1179.0 324.5 L1179.0 323.9 L1179.5 325.6 L1180.0 328.3 L1180.1 330.0 L1180.4 329.8 L1182.6 331.3 L1182.0 331.7 L1182.5 332.0 L1183.3 332.0 L1183.2 332.2 L1184.0 333.3 L1184.1 331.9 L1185.2 329.0 L1185.0 327.6 L1186.0 325.0 L1186.1 322.7 L1187.1 322.1 L1187.8 322.4 L1188.0 320.0 L1188.6 319.0 L1189.0 317.0 L1189.5 316.0 L1190.0 315.0 L1190.6 311.4 L1191.6 314.4 L1191.8 313.9 L1192.0 306.7 L1191.9 301.0 L1192.9 299.8 L1194.0 300.2 L1194.0 296.7 L1194.5 296.3 L1195.3 296.1 L1195.3 295.3 L1196.0 295.0 L1196.8 300.8 L1197.3 295.6 L1197.7 302.3 L1198.0 303.3 L1198.7 297.0 L1198.5 302.4 L1200.1 300.3 L1200.0 296.7 L1200.2 296.1 L1201.3 291.4 L1201.5 293.0 L1202.0 288.3 L1202.2 284.9 L1202.5 285.1 L1204.4 285.9 L1204.0 283.3 L1204.5 285.1 L1205.3 289.9 L1205.7 290.6 L1206.0 295.0 L1206.0 296.6 L1207.2 296.5 L1207.2 299.2 L1208.0 305.0 L1207.6 306.5 L1208.0 305.4 L1210.3 305.7 L1210.0 308.3 L1211.0 311.8 L1210.8 308.8 L1212.4 311.8 L1212.0 315.0 L1212.5 315.9 L1212.8 315.7 L1213.3 318.3 L1214.0 317.7 L1214.0 311.5 L1214.7 308.1 L1215.3 303.3 L1215.9 297.2 L1215.8 288.3 L1216.0 288.1 L1217.3 280.0 L1217.6 278.3 L1218.8 270.8 L1218.9 271.0 L1219.3 270.0 L1220.0 271.5 L1220.2 278.7 L1220.1 278.7 L1221.3 283.3 L1221.5 281.4 L1222.1 281.2 L1222.7 281.5 L1223.3 280.0 L1223.7 280.3 L1225.0 285.2 L1225.3 281.0 L1225.3 288.3 L1226.0 291.7 L1226.8 289.8 L1226.0 298.8 L1227.3 300.0 L1228.6 304.0 L1228.2 301.0 L1228.8 300.9 L1229.3 308.3 L1229.6 306.4 L1230.2 306.3 L1230.8 305.9 L1231.3 300.0 L1231.7 299.0 L1233.0 294.0 L1233.3 299.5 L1233.3 293.3 L1233.6 289.8 L1234.2 291.4 L1235.6 291.6 L1235.3 288.3 L1235.6 285.9 L1236.9 287.5 L1237.0 286.3 L1237.3 285.0 L1237.8 286.1 L1238.0 288.2 L1239.4 294.4 L1239.3 295.0 L1239.7 292.9 L1240.0 292.0 L1240.2 292.5 L1241.3 291.7 L1242.0 292.0 L1242.3 292.1 L1242.6 292.0 L1243.3 296.7 L1243.6 299.3 L1244.0 301.5 L1244.8 300.7 L1245.3 305.0 L1245.3 310.6 L1246.6 306.2 L1246.7 311.7 L1247.0 303.6 L1246.3 303.7 L1248.5 309.3 L1248.7 300.0 L1249.1 295.3 L1249.8 294.2 L1250.3 293.5 L1250.7 291.7 L1251.4 293.6 L1251.7 292.8 L1252.8 294.4 L1252.7 295.0 L1254.0 293.1 L1253.8 294.3 L1254.3 292.7 L1254.7 291.7 L1254.7 295.0 L1255.8 296.2 L1255.8 294.5 L1256.7 296.7 L1257.5 294.7 L1257.7 293.7 L1258.5 292.1 L1258.7 291.7 L1259.5 300.7 L1258.6 298.1 L1260.1 303.9 L1260.7 306.7 L1261.2 308.9 L1261.5 308.0 L1261.9 310.9 L1262.7 313.3 L1263.6 311.5 L1263.7 310.3 L1263.3 311.8 L1264.7 308.3 L1264.9 305.1 L1265.6 305.7 L1266.0 304.6 L1266.7 301.7 L1266.9 301.2 L1267.9 301.0 L1268.1 299.6 L1268.7 296.7 L1269.2 297.3 L1269.4 297.0 L1270.3 298.6 L1270.7 300.0 L1271.7 285.1 L1271.5 292.5 L1272.0 283.3 L1273.6 281.9 L1273.5 272.8 L1273.3 271.7 L1273.5 288.2 L1273.7 288.8 L1274.5 294.4 L1275.3 300.0 L1275.6 301.0 L1276.8 300.3 L1276.7 301.7 L1277.1 298.2 L1277.5 290.5 L1278.1 284.4 L1278.7 283.3 L1279.0 268.4 L1280.0 270.4 L1280.0 256.7 L1279.8 248.1 L1281.7 243.6 L1281.3 223.3 L1281.7 219.8 L1282.3 210.9 L1283.3 190.7 L1283.3 190.0 L1284.1 188.2 L1284.4 181.1 L1285.5 163.8 L1285.3 163.3 L1285.6 154.7 L1285.5 153.0 L1286.7 143.3 L1287.4 141.5 L1286.5 140.4 L1288.0 140.0 L1288.9 150.1 L1290.0 149.9 L1289.5 168.5 L1290.0 176.7 L1291.0 185.1 L1291.0 190.1 L1291.0 196.2 L1292.0 200.0 L1291.8 219.5 L1292.7 215.7 L1293.5 225.7 L1294.0 233.3 L1294.5 231.4 L1295.9 225.0 L1295.5 221.8 L1296.0 220.0 L1296.9 223.8 L1297.5 231.8 L1297.6 233.4 L1298.0 243.3 L1298.5 255.2 L1298.2 261.9 L1299.3 268.3 L1299.7 267.9 L1299.9 264.1 L1301.7 260.3 L1301.3 256.7 L1301.7 264.7 L1302.0 261.0 L1303.0 265.7 L1303.3 266.7 L1304.4 265.0 L1304.3 265.9 L1305.5 265.3 L1305.3 263.3 L1305.7 268.8 L1306.4 275.1 L1306.9 273.2 L1307.3 276.7 L1308.5 287.4 L1308.5 291.6 L1308.1 287.3 L1309.3 293.3 L1310.0 296.0 L1310.4 295.9 L1310.7 305.0 L1311.2 295.2 L1311.7 297.3 L1312.0 290.0 L1312.5 288.8 L1312.6 289.6 L1313.3 285.3 L1314.0 283.3 L1314.5 286.2 L1314.7 289.3 L1314.7 288.6 L1316.0 293.3 L1315.4 290.7 L1317.9 291.6 L1317.3 287.3 L1318.0 286.7 L1318.7 289.6 L1318.8 296.1 L1319.7 292.7 L1320.0 296.7 L1320.0 296.2 L1321.8 295.7 L1321.3 293.7 L1322.0 290.0 L1322.0 291.0 L1323.7 292.2 L1323.7 298.5 L1324.0 300.0 L1324.0 298.3 L1324.7 298.7 L1325.5 296.0 L1326.0 286.7 L1326.8 283.7 L1327.4 282.4 L1327.8 279.2 L1328.0 278.3 L1328.4 277.9 L1329.4 277.0 L1330.1 277.9 L1330.0 276.7 L1330.7 275.6 L1331.3 275.5 L1332.1 275.9 L1332.0 275.0 L1332.2 275.8 L1332.4 277.1 L1334.0 282.2 L1334.0 283.3 L1334.7 295.7 L1335.6 291.6 L1335.2 299.0 L1336.0 301.7 L1336.3 291.9 L1337.5 295.9 L1337.7 299.1 L1338.0 290.0 L1338.4 297.4 L1338.0 293.7 L1339.4 294.0 L1340.0 298.3 L1340.5 295.6 L1341.1 290.4 L1340.6 287.8 L1342.0 286.7 L1342.4 279.8 L1342.7 278.9 L1343.8 274.3 L1344.0 273.3 L1344.4 276.9 L1344.9 275.5 L1345.8 282.5 L1346.0 285.0 L1346.4 277.2 L1346.3 274.6 L1347.6 277.3 L1348.0 273.3 L1348.4 274.2 L1349.6 274.8 L1350.0 282.4 L1350.0 286.7 L1350.8 272.7 L1351.0 273.9 L1351.4 263.4 L1352.0 256.7 L1352.2 257.4 L1354.1 257.0 L1353.2 265.9 L1354.0 266.7 L1354.7 267.3 L1355.8 280.8 L1354.9 274.0 L1356.0 283.3 L1356.6 284.1 L1356.8 285.8 L1356.9 289.3 L1358.0 295.0 L1358.4 293.8 L1359.9 292.3 L1359.6 293.8 L1360.0 291.7 L1360.2 293.0 L1361.0 293.7 L1361.7 293.6 L1362.0 300.0 L1361.9 297.3 L1363.4 297.8 L1362.8 295.7 L1364.0 293.3 L1363.6 286.4 L1365.4 288.4 L1365.3 285.0" stroke="#440154" stroke-width="3.3" fill="none" stroke-linejoin="round" stroke-linecap="butt"/>
<path d="M155.7 390.0 L155.8 396.7 L156.6 397.4 L156.3 398.4 L157.3 400.0 L157.4 393.9 L157.8 385.5 L158.5 385.9 L159.0 385.0 L159.6 385.8 L158.4 390.6 L160.1 401.6 L160.7 403.3 L161.2 397.0 L161.5 399.7 L162.0 395.0 L162.3 393.3 L163.4 397.0 L163.1 394.7 L163.7 403.4 L164.0 406.7 L164.6 407.3 L164.7 411.7 L165.0 410.5 L165.7 413.3 L165.6 425.4 L165.5 420.3 L166.1 426.6 L167.3 430.0 L168.8 433.6 L168.3 440.0 L168.7 444.0 L168.5 443.5 L169.7 440.4 L170.0 446.7 L170.5 452.7 L170.8 450.9 L172.0 447.6 L171.7 456.7 L171.8 462.9 L172.1 461.2 L172.4 462.0 L173.3 465.0 L174.1 467.3 L173.9 467.5 L174.4 470.6 L175.0 471.7 L175.2 475.4 L175.6 474.1 L176.2 472.4 L176.7 476.7 L176.6 477.8 L177.8 481.7 L177.8 479.0 L178.3 490.0 L178.6 490.5 L178.5 492.5 L179.4 492.4 L180.0 493.3 L180.3 495.8 L180.5 495.6 L182.2 502.4 L181.7 503.3 L182.4 501.7 L182.2 502.9 L183.8 502.3 L183.3 500.0 L184.1 501.7 L184.3 517.7 L185.2 521.5 L185.0 523.3 L186.0 518.1 L185.9 521.6 L186.3 515.1 L186.7 506.7 L186.8 505.9 L188.1 506.2 L188.0 500.8 L188.3 500.0 L188.7 510.7 L189.3 520.8 L189.1 515.6 L190.0 530.0 L190.7 528.9 L190.9 528.7 L190.5 523.4 L191.7 520.0 L191.6 533.5 L192.0 538.3 L193.0 533.5 L193.3 543.3 L193.4 546.6 L194.5 560.7 L194.4 562.9 L195.0 566.7 L195.2 567.1 L195.8 573.1 L196.2 585.9 L196.7 586.7 L196.8 562.2 L197.6 555.6 L198.0 528.3 L198.6 536.9 L198.9 546.3 L199.3 550.0 L200.1 564.9 L200.2 551.7 L200.7 573.3 L200.5 590.0 L202.0 587.4 L202.0 593.3 L203.1 597.0 L202.4 594.3 L203.2 603.5 L204.0 608.3 L204.8 596.8 L205.0 599.2 L205.6 589.8 L206.0 586.7 L206.2 587.1 L207.2 587.5 L207.8 588.0 L208.0 588.3 L208.4 574.3 L209.5 570.7 L209.3 566.7 L210.7 557.0 L210.1 550.7 L210.7 528.3 L211.3 530.0 L211.5 543.3 L212.0 553.3 L212.7 542.4 L213.1 545.6 L213.3 540.0 L213.4 531.7 L214.2 505.4 L214.6 506.4 L215.3 500.0 L215.7 513.7 L216.3 522.0 L216.7 523.3 L217.4 522.2 L217.1 518.6 L218.2 514.5 L218.7 503.3 L219.4 504.6 L220.2 513.9 L220.3 519.5 L220.7 520.0 L221.9 507.5 L222.0 517.7 L222.7 512.6 L222.7 506.7 L223.5 509.3 L223.2 521.8 L224.3 531.2 L224.7 536.7 L225.6 532.9 L224.8 521.7 L226.1 523.7 L226.7 520.0 L226.5 515.5 L227.1 516.7 L228.6 516.2 L228.7 515.0 L228.8 524.3 L229.6 523.5 L229.9 545.1 L230.7 546.7 L230.8 542.8 L232.0 537.0 L232.2 530.6 L232.7 530.0 L233.5 517.4 L233.4 527.5 L234.0 516.0 L234.7 510.0 L236.3 487.9 L235.9 496.1 L236.0 483.3 L236.5 481.3 L236.1 479.5 L237.3 470.0 L237.6 466.4 L238.5 464.6 L238.7 463.3 L238.5 456.9 L239.8 457.2 L240.0 455.0 L240.9 459.5 L240.8 457.2 L241.8 458.2 L242.0 460.0 L242.2 460.7 L242.7 463.9 L243.1 462.7 L244.0 465.0 L244.4 462.1 L244.8 448.6 L245.3 445.0 L245.8 446.6 L245.7 447.3 L246.7 453.3 L247.7 452.5 L247.7 451.5 L247.1 451.0 L248.7 450.0 L248.6 461.4 L249.5 482.0 L250.0 490.0 L249.8 486.4 L250.1 484.3 L252.1 481.2 L252.0 476.7 L252.9 479.4 L252.9 484.1 L253.5 484.2 L254.0 486.7 L253.6 492.2 L254.3 496.3 L255.6 516.5 L256.0 520.0 L255.9 516.6 L256.5 516.3 L258.0 519.4 L258.0 510.0 L258.2 516.2 L258.4 521.4 L260.3 531.2 L260.0 533.3 L261.0 531.7 L261.1 527.1 L261.3 528.6 L262.0 526.7 L263.6 535.8 L263.0 537.1 L263.6 531.0 L264.0 546.7 L263.9 539.4 L265.1 539.5 L265.8 537.1 L266.0 536.7 L266.5 545.3 L267.4 566.2 L268.2 571.0 L268.0 576.7 L268.1 571.2 L268.3 558.1 L269.3 558.7 L270.0 550.0 L270.9 545.4 L271.1 529.7 L271.5 534.7 L272.0 520.0 L272.4 519.4 L272.9 503.8 L273.8 503.9 L274.0 500.0 L275.1 501.2 L275.1 500.3 L275.4 514.4 L276.0 516.7 L276.2 521.2 L276.4 518.0 L277.1 521.2 L278.0 526.7 L278.3 523.8 L278.7 514.0 L279.3 514.4 L280.0 510.0 L279.9 514.7 L281.3 513.4 L281.6 513.9 L282.0 520.0 L283.6 514.2 L283.5 518.0 L283.8 507.5 L284.0 506.7 L284.7 508.3 L285.1 508.2 L285.6 510.1 L286.0 516.7 L285.9 513.2 L287.2 498.0 L287.3 506.2 L288.0 496.7 L288.7 495.0 L289.6 490.3 L289.8 478.0 L290.0 476.7 L290.2 482.0 L290.4 488.3 L292.0 480.7 L292.0 493.3 L293.3 490.9 L292.8 491.7 L292.5 491.5 L294.0 490.0 L293.8 491.4 L294.2 493.7 L294.2 495.2 L296.0 496.7 L297.1 490.5 L296.6 485.4 L297.7 481.4 L298.0 480.0 L298.4 478.5 L299.1 479.3 L300.6 479.3 L300.0 476.7 L300.5 472.1 L301.2 462.1 L301.3 460.0 L301.3 456.1 L301.7 455.9 L302.7 453.3 L303.1 461.0 L303.3 479.9 L304.8 486.6 L304.7 500.0 L305.5 499.5 L305.6 495.9 L306.4 492.4 L306.7 486.7 L307.6 484.1 L308.1 481.7 L308.5 479.3 L308.7 476.7 L308.9 469.4 L310.2 464.5 L310.3 469.6 L310.7 463.3 L310.8 462.3 L311.4 454.8 L312.0 449.2 L312.7 445.0 L313.8 447.0 L313.4 454.2 L314.2 471.9 L314.7 473.3 L315.3 476.1 L316.5 474.0 L315.8 473.9 L316.7 480.0 L316.9 474.7 L317.6 475.6 L318.3 472.1 L318.7 470.0 L319.1 465.7 L320.5 465.2 L320.0 461.7 L321.3 477.1 L320.1 468.0 L321.7 484.7 L322.0 486.7 L322.4 490.2 L323.3 498.1 L323.7 498.1 L324.0 500.0 L324.3 503.4 L324.9 517.8 L325.8 513.7 L326.0 518.3 L327.0 515.8 L326.9 509.2 L327.5 507.6 L328.0 506.7 L329.5 505.5 L328.5 506.1 L328.7 504.8 L330.0 503.3 L330.9 500.8 L331.2 492.2 L331.7 486.4 L332.0 476.7 L332.6 476.2 L333.4 461.8 L332.7 471.9 L334.0 460.0 L334.0 456.2 L334.9 458.1 L336.0 459.5 L336.0 450.0 L336.2 449.6 L337.2 449.6 L337.3 449.3 L338.0 451.3 L338.8 452.0 L338.3 459.5 L339.3 460.0 L339.9 463.0 L339.0 476.8 L341.5 483.6 L341.3 490.0 L341.2 494.1 L342.4 511.4 L343.1 511.1 L343.3 516.7 L343.5 510.5 L343.8 511.7 L344.3 510.3 L345.3 510.0 L346.1 508.5 L345.6 500.5 L346.8 486.2 L347.3 480.0 L348.0 477.1 L347.9 467.1 L349.9 474.2 L349.3 465.0 L349.7 467.4 L350.4 465.9 L351.6 469.3 L351.3 470.0 L351.5 468.5 L352.0 468.4 L353.1 468.2 L353.3 466.7 L353.3 467.5 L354.1 468.7 L354.5 470.7 L355.3 473.3 L355.6 472.5 L356.7 460.6 L356.7 460.0 L357.5 461.7 L357.5 470.5 L357.5 471.2 L358.7 473.3 L358.7 477.1 L359.8 474.0 L360.2 476.9 L360.7 483.3 L361.6 483.0 L362.1 480.7 L362.0 474.7 L362.7 473.3 L363.6 482.9 L363.3 487.2 L364.0 490.0 L364.0 476.6 L364.4 483.6 L365.3 470.0 L366.1 475.3 L366.0 486.2 L366.9 493.4 L367.3 496.7 L368.2 500.6 L368.6 499.7 L368.4 503.4 L369.3 506.7 L370.0 508.5 L370.3 510.4 L370.7 509.8 L371.3 513.3 L372.3 521.2 L372.4 518.3 L372.3 514.2 L373.3 526.7 L373.4 527.6 L373.4 537.9 L375.1 539.4 L375.3 540.0 L375.6 551.3 L377.0 549.6 L376.4 551.7 L377.3 553.3 L377.3 554.6 L378.6 560.4 L379.1 563.6 L379.3 566.7 L380.3 569.5 L380.6 567.8 L380.8 568.3 L381.3 570.0 L381.9 559.6 L382.6 561.0 L382.7 553.6 L383.3 550.0 L384.4 544.4 L384.2 543.2 L384.4 539.7 L385.3 538.3 L385.8 539.5 L386.3 539.0 L386.3 551.1 L387.3 553.3 L387.1 547.4 L388.4 546.9 L388.9 540.4 L389.3 540.0 L390.1 545.4 L390.2 542.3 L390.0 540.5 L391.3 550.0 L392.2 548.3 L392.7 543.3 L392.9 524.6 L393.3 520.0 L394.4 523.6 L394.5 521.7 L395.2 536.8 L395.3 546.7 L395.5 552.9 L396.8 551.0 L397.7 548.0 L397.3 553.3 L397.2 556.1 L398.0 564.3 L398.8 563.3 L399.3 565.0 L400.6 553.0 L400.4 562.2 L400.8 555.2 L401.3 540.0 L401.7 539.1 L402.2 533.9 L403.0 533.6 L403.3 531.7 L403.6 537.1 L404.5 549.2 L404.7 546.1 L405.3 550.0 L405.5 548.0 L406.3 549.1 L407.6 547.6 L407.3 546.7 L407.6 554.5 L408.2 556.0 L408.7 554.9 L409.3 560.0 L410.1 557.9 L410.4 558.9 L410.8 551.5 L411.3 550.0 L411.7 552.3 L412.3 551.2 L413.4 550.6 L413.3 563.3 L414.2 562.1 L414.4 557.8 L414.7 562.7 L415.3 556.7 L415.8 559.0 L416.8 562.5 L416.2 567.9 L417.3 568.3 L418.3 567.5 L418.6 565.9 L418.9 567.0 L419.3 555.0 L419.7 567.5 L420.2 559.7 L421.0 562.9 L421.3 573.3 L422.0 574.5 L423.1 580.2 L422.6 578.8 L423.3 583.3 L423.8 578.2 L425.1 571.0 L424.7 577.8 L425.3 566.7 L425.5 569.5 L427.0 570.1 L427.5 567.3 L427.3 573.3 L428.0 567.6 L428.1 568.4 L429.1 571.9 L429.3 566.7 L429.4 570.2 L430.3 571.5 L430.2 576.5 L431.3 580.0 L431.8 585.0 L432.0 581.6 L433.2 583.7 L433.3 590.0 L433.7 599.7 L433.8 590.4 L434.4 600.7 L435.3 606.7 L435.4 609.5 L436.9 612.4 L436.5 609.2 L437.3 613.3 L437.8 619.5 L437.9 618.4 L438.5 617.8 L439.3 620.0 L440.2 617.7 L439.4 619.6 L440.2 617.9 L441.3 616.7 L441.9 619.1 L442.4 621.1 L442.7 630.4 L443.3 631.7 L443.4 634.5 L445.1 639.4 L445.0 637.1 L445.3 640.0 L445.6 633.2 L446.1 639.1 L446.9 633.3 L447.3 630.0 L447.9 628.2 L448.2 621.2 L449.3 614.4 L449.3 613.3 L449.1 607.7 L449.9 612.2 L450.7 604.3 L451.3 603.3 L451.7 599.8 L453.1 597.1 L452.5 599.7 L453.3 596.7 L453.9 588.1 L454.3 580.6 L455.7 584.7 L455.3 580.0 L455.8 584.2 L457.2 583.8 L456.5 584.5 L457.3 586.7 L457.7 587.7 L457.9 592.4 L458.8 589.3 L459.3 593.3 L460.1 586.0 L460.5 585.9 L461.5 588.4 L461.3 583.3 L461.4 579.0 L461.8 575.6 L463.1 578.2 L463.3 573.3 L463.8 571.6 L464.7 570.7 L465.1 569.2 L465.3 566.7 L466.4 564.9 L466.4 563.6 L467.4 564.1 L467.3 563.3 L467.9 564.7 L468.3 575.6 L468.0 579.7 L469.3 580.0 L470.2 585.4 L470.4 585.8 L470.9 583.4 L471.3 586.7 L471.3 585.9 L472.0 585.8 L473.0 584.1 L473.3 583.3 L474.3 582.2 L474.8 582.5 L474.9 574.3 L475.3 573.3 L475.9 576.2 L476.1 575.4 L477.5 576.4 L477.3 576.7 L477.2 565.8 L477.6 560.6 L479.7 571.3 L479.3 560.0 L479.9 566.1 L480.8 571.5 L480.8 562.1 L481.3 573.3 L481.7 567.6 L482.1 558.8 L482.6 567.1 L483.3 553.3 L484.4 552.8 L484.3 550.9 L484.3 548.6 L485.3 546.7 L485.3 544.8 L486.9 545.1 L486.8 545.1 L487.3 543.3 L487.9 545.3 L488.6 565.1 L488.8 566.0 L489.3 570.0 L489.0 568.9 L491.0 554.1 L491.1 560.2 L491.3 553.3 L491.5 538.6 L492.3 542.3 L492.6 547.5 L493.3 536.7 L493.5 532.4 L494.5 525.2 L495.3 524.0 L495.3 516.7 L496.2 506.8 L496.0 513.8 L496.5 515.2 L497.3 505.0 L498.1 507.6 L498.2 522.9 L499.0 520.7 L499.3 523.3 L500.2 515.8 L500.0 517.1 L501.4 512.5 L501.3 510.0 L501.7 516.1 L501.7 523.6 L503.4 526.2 L503.3 526.7 L503.3 517.3 L504.2 515.3 L504.8 516.2 L505.3 515.0 L506.0 516.9 L506.5 522.2 L507.2 518.7 L507.3 523.3 L507.5 526.5 L508.9 526.3 L509.1 526.8 L509.3 530.0 L510.7 542.4 L510.0 540.2 L511.1 541.5 L511.3 543.3 L512.1 551.3 L512.4 551.0 L513.2 548.2 L513.3 560.0 L513.6 559.2 L514.3 556.1 L515.1 551.0 L515.3 550.0 L516.1 549.2 L516.7 542.8 L517.4 540.7 L517.3 536.7 L517.5 534.0 L518.6 521.0 L518.2 528.2 L519.3 518.3 L519.8 524.7 L520.0 526.0 L520.6 521.0 L521.3 530.0 L521.7 531.4 L522.4 533.9 L522.4 532.6 L523.3 536.7 L523.9 537.2 L523.9 542.9 L525.0 537.5 L525.3 543.3 L526.1 546.6 L525.7 549.7 L526.8 547.9 L527.3 550.0 L527.7 547.0 L528.3 549.3 L529.0 548.1 L529.3 546.7 L529.6 542.9 L530.3 527.5 L530.5 530.0 L531.3 526.7 L531.7 524.5 L532.0 521.3 L532.7 518.2 L533.3 516.7 L533.8 513.3 L533.4 515.9 L534.6 516.3 L535.3 510.0 L535.4 509.4 L536.7 504.8 L536.9 502.4 L537.3 500.0 L537.5 493.7 L538.3 496.6 L538.5 493.2 L539.3 490.0 L540.2 490.6 L540.2 497.5 L540.9 494.3 L541.3 500.0 L542.0 505.4 L542.3 505.2 L542.0 501.2 L543.3 506.7 L543.9 514.3 L544.5 508.5 L545.3 509.1 L545.3 518.3 L546.4 516.7 L547.0 508.1 L547.5 511.7 L547.3 503.3 L548.2 506.2 L548.2 504.6 L548.9 505.0 L549.3 506.7 L549.7 503.2 L549.8 502.0 L550.5 504.4 L551.3 496.7 L551.4 486.8 L552.4 489.0 L553.5 486.7 L553.3 480.0 L553.2 488.9 L554.3 487.9 L554.9 492.3 L555.3 493.3 L555.9 490.2 L555.9 488.9 L557.2 491.9 L557.3 483.3 L557.3 475.7 L558.5 471.8 L558.2 481.3 L559.3 468.3 L559.3 470.6 L560.4 481.0 L561.2 479.9 L561.3 483.3 L562.5 488.0 L562.1 487.4 L562.8 492.2 L563.3 495.0 L563.7 493.6 L564.0 494.1 L564.0 494.6 L565.3 493.3 L566.1 490.8 L566.0 487.8 L567.2 488.5 L567.3 480.0 L568.1 479.4 L568.5 476.3 L568.3 477.2 L569.3 473.3 L569.5 469.1 L569.2 471.3 L570.8 468.4 L571.3 465.0 L572.0 466.3 L572.4 467.6 L572.6 467.9 L573.3 473.3 L573.7 470.6 L574.3 471.9 L574.7 467.2 L575.3 466.7 L575.7 460.9 L577.0 464.0 L577.2 464.7 L577.3 460.0 L577.5 461.5 L578.6 462.9 L579.3 460.8 L579.3 463.3 L580.0 464.3 L580.7 464.6 L581.3 468.4 L581.3 470.0 L581.9 467.2 L582.3 467.0 L582.9 468.9 L583.3 466.7 L584.6 461.7 L584.0 463.6 L585.7 461.9 L585.3 456.7 L585.9 455.2 L586.7 454.7 L586.5 441.9 L587.3 440.0 L588.0 433.3 L588.3 429.4 L588.7 428.2 L589.0 431.4 L590.0 423.3 L590.3 424.7 L590.5 424.1 L591.4 423.6 L592.0 426.7 L591.7 426.1 L592.6 423.8 L593.3 421.5 L594.0 420.0 L594.4 420.5 L595.0 422.9 L594.4 421.8 L596.0 423.3 L596.6 413.7 L596.6 416.7 L597.3 421.7 L598.0 413.3 L598.6 418.8 L598.7 430.5 L599.3 433.3 L598.9 427.3 L600.6 422.1 L601.2 408.9 L601.3 406.7 L600.7 401.8 L603.0 398.7 L602.5 400.5 L603.3 393.3 L603.7 386.6 L604.0 391.0 L604.9 383.4 L605.3 380.0 L606.6 373.5 L606.5 371.2 L606.2 371.3 L607.3 370.0 L606.9 372.1 L607.9 382.4 L608.1 378.0 L609.3 390.0 L610.1 387.2 L610.3 384.6 L611.1 387.4 L611.3 383.3 L610.9 380.0 L612.3 380.3 L612.3 381.0 L613.3 370.0 L614.4 374.8 L613.8 375.0 L615.5 374.0 L615.3 376.7 L616.1 369.9 L615.7 370.6 L617.3 374.0 L617.3 366.7 L617.9 365.5 L617.3 364.8 L619.4 361.4 L619.6 362.7 L619.7 357.2 L620.0 356.7 L620.7 349.0 L620.7 352.5 L621.3 348.3 L621.9 349.5 L622.7 351.6 L621.9 351.5 L623.3 353.3 L624.3 359.7 L624.3 355.9 L624.6 367.9 L625.3 373.3 L625.9 381.0 L626.2 375.9 L626.7 375.0 L627.3 383.3 L628.1 381.5 L628.1 380.1 L629.4 379.2 L629.3 373.3 L630.3 372.0 L630.5 372.9 L631.5 371.5 L631.3 370.0 L631.4 369.5 L632.0 369.4 L632.7 368.6 L633.3 368.3 L633.7 369.2 L634.9 372.5 L634.6 373.3 L635.3 376.7 L636.1 389.6 L636.9 385.4 L637.0 387.4 L637.3 390.0 L637.3 393.4 L637.9 391.9 L638.6 393.0 L639.3 400.0 L640.3 400.8 L640.7 403.4 L640.5 406.4 L641.3 406.7 L641.2 403.9 L642.5 403.3 L642.9 401.5 L643.3 400.0 L643.2 398.3 L643.3 397.8 L645.1 398.2 L645.3 396.7 L645.2 399.9 L647.1 402.9 L646.7 412.9 L647.3 413.3 L647.9 417.4 L648.1 414.7 L648.8 419.5 L649.3 420.0 L649.6 424.6 L650.1 426.0 L651.3 424.4 L651.3 426.7 L652.8 422.9 L652.0 425.5 L652.9 424.0 L653.3 421.7 L653.5 424.3 L654.1 423.2 L654.5 422.9 L655.3 430.0 L656.0 424.7 L657.2 428.9 L656.8 424.0 L657.3 423.3 L658.3 426.5 L658.2 427.3 L659.1 426.0 L659.3 433.3 L659.5 432.8 L659.9 430.4 L660.9 433.0 L661.3 426.7 L661.7 417.0 L662.1 424.7 L662.8 419.5 L663.3 416.7 L663.5 416.1 L664.4 414.1 L664.7 413.3 L665.0 422.9 L665.2 419.4 L666.8 420.9 L666.7 423.3 L666.8 426.1 L667.9 424.0 L669.1 427.6 L668.7 430.0 L669.2 435.4 L670.4 442.9 L669.8 433.9 L670.7 446.7 L670.3 447.8 L671.6 450.6 L672.4 455.1 L672.7 456.7 L673.4 460.9 L674.9 457.9 L674.0 460.3 L674.7 463.3 L675.4 456.1 L675.9 462.3 L676.6 459.8 L676.7 453.3 L676.8 458.0 L676.9 455.3 L677.9 461.5 L678.7 463.3 L680.1 460.1 L679.7 449.8 L679.3 447.4 L680.7 446.7 L681.1 454.2 L682.0 451.2 L682.5 453.1 L682.7 456.7 L682.9 455.0 L683.7 449.4 L685.3 447.5 L684.7 436.7 L685.8 438.7 L686.0 442.3 L686.1 446.1 L686.7 446.7 L687.2 449.5 L688.3 447.3 L687.9 456.3 L688.7 456.7 L689.7 453.5 L689.7 452.4 L689.8 452.2 L690.7 450.0 L691.0 457.8 L691.8 458.8 L692.1 454.3 L692.7 460.0 L692.8 458.1 L693.6 454.1 L694.4 457.2 L694.7 453.3 L694.6 453.8 L695.6 464.3 L695.5 472.4 L696.7 476.7 L696.7 471.5 L696.7 473.6 L697.9 468.5 L698.7 466.7 L699.0 458.1 L699.0 457.1 L700.7 457.2 L700.7 456.7 L701.8 453.2 L701.7 456.3 L701.2 442.4 L702.7 440.0 L703.3 428.0 L703.7 433.6 L704.0 428.1 L704.7 426.7 L705.5 427.8 L704.8 437.1 L706.7 438.3 L706.7 446.7 L706.7 448.7 L707.4 447.0 L708.1 457.1 L708.7 460.0 L708.9 462.2 L710.3 466.2 L710.3 461.4 L710.7 466.7 L711.2 470.7 L711.9 471.4 L711.9 473.0 L712.7 476.7 L713.5 478.0 L712.9 477.6 L713.9 479.8 L714.7 483.3 L715.6 483.0 L716.2 466.4 L716.8 470.2 L716.7 463.3 L717.5 455.5 L718.4 457.9 L718.2 445.0 L718.7 443.3 L719.1 445.5 L719.6 444.2 L721.0 448.6 L720.7 450.0 L721.6 451.9 L721.8 451.0 L722.2 454.9 L722.7 456.7 L723.2 447.0 L723.7 450.1 L725.2 449.6 L724.7 446.7 L725.3 454.2 L725.5 447.0 L726.1 460.4 L726.7 466.7 L727.5 467.0 L728.2 470.0 L728.0 484.1 L728.7 490.0 L729.3 491.1 L729.0 507.3 L730.1 518.5 L730.7 520.0 L731.7 507.4 L731.3 505.0 L731.7 506.0 L732.7 503.3 L732.7 500.5 L733.2 501.1 L733.2 497.8 L734.7 496.7 L735.1 497.6 L735.5 499.4 L736.3 499.4 L736.7 500.0 L737.4 501.0 L737.4 510.0 L738.7 505.6 L738.7 516.7 L739.2 529.9 L740.3 538.3 L740.4 538.2 L740.7 546.7 L741.4 547.9 L741.5 547.1 L742.2 547.1 L742.7 548.3 L743.4 544.3 L743.1 542.9 L744.3 538.8 L744.7 536.7 L744.8 527.4 L745.3 504.9 L746.9 512.2 L746.7 503.3 L747.4 505.9 L748.1 505.4 L748.2 509.5 L748.7 513.3 L748.9 510.1 L750.1 498.9 L749.7 495.5 L750.7 493.3 L751.5 499.6 L751.3 493.8 L753.0 501.2 L752.7 503.3 L753.0 500.6 L753.6 491.3 L754.3 490.5 L754.7 486.7 L755.6 480.9 L755.8 474.7 L755.9 473.9 L756.7 473.3 L756.8 482.1 L757.8 477.5 L758.3 478.7 L758.7 483.3 L759.3 483.9 L759.9 486.9 L761.1 489.0 L760.7 490.0 L761.7 481.7 L762.2 477.9 L762.4 482.8 L762.7 476.7 L763.3 476.0 L763.1 476.3 L764.2 474.2 L764.7 470.0 L765.4 467.8 L765.7 469.0 L766.4 469.1 L766.7 463.3 L767.2 464.2 L767.3 468.8 L767.8 468.5 L768.7 470.0 L768.5 463.5 L769.4 460.6 L770.0 460.9 L770.7 450.0 L771.7 445.3 L772.6 436.9 L772.3 438.1 L772.7 433.3 L773.1 435.9 L773.1 433.7 L774.7 433.9 L774.7 440.0 L775.1 434.6 L775.5 430.4 L776.1 430.7 L776.7 430.0 L777.5 423.3 L777.6 415.9 L778.4 405.1 L778.7 403.3 L778.9 390.0 L779.5 361.1 L780.0 356.7 L781.1 359.2 L781.5 373.1 L781.8 380.1 L782.0 390.0 L782.8 399.1 L782.3 391.4 L783.5 394.2 L784.0 400.0 L783.6 389.7 L784.9 388.6 L785.4 391.7 L786.0 386.7 L785.9 392.2 L786.9 391.6 L787.6 394.7 L788.0 396.7 L788.7 387.1 L789.1 393.0 L789.3 387.1 L790.0 383.3 L790.3 398.5 L790.4 394.8 L791.4 391.3 L792.0 406.7 L792.1 405.7 L792.8 404.2 L793.3 404.8 L794.0 400.0 L795.4 405.7 L795.1 402.8 L795.6 411.1 L796.0 413.3 L797.1 411.6 L796.6 412.0 L797.4 408.5 L798.0 406.7 L798.5 410.0 L798.7 419.0 L799.1 416.8 L800.0 423.3 L800.7 425.8 L801.3 424.9 L801.5 425.2 L802.0 433.3 L802.0 436.5 L802.5 435.6 L803.4 441.7 L804.0 443.3 L804.8 446.7 L805.8 444.3 L805.7 447.3 L806.0 450.0 L806.3 452.8 L807.3 453.4 L807.5 457.3 L808.0 460.0 L808.0 458.4 L808.9 457.7 L810.2 459.4 L810.0 456.7 L810.2 446.3 L811.3 433.1 L811.7 438.8 L812.0 423.3 L812.5 420.2 L813.0 411.8 L813.4 409.0 L814.0 406.7 L813.6 393.7 L815.2 388.0 L815.4 386.0 L816.0 370.0 L816.1 375.9 L816.6 375.1 L816.9 374.1 L818.0 376.7 L818.3 389.0 L818.9 389.5 L819.8 387.7 L820.0 390.0 L820.7 376.4 L820.5 374.0 L821.4 375.6 L822.0 363.3 L822.5 361.9 L822.7 344.0 L823.2 338.1 L824.0 330.0 L824.2 328.3 L824.8 327.8 L825.2 323.2 L826.0 321.7 L825.6 343.0 L827.5 344.2 L828.3 354.1 L828.0 356.7 L827.8 368.2 L828.6 364.1 L829.4 365.3 L830.0 370.0 L830.9 369.0 L830.6 356.4 L831.5 351.7 L832.0 343.3 L832.9 344.1 L832.6 355.2 L833.0 354.0 L834.0 356.7 L833.8 358.8 L835.7 368.6 L835.2 364.6 L836.0 376.7 L836.5 382.2 L836.3 406.5 L838.3 415.6 L838.0 423.3 L838.5 419.0 L838.1 421.4 L839.7 415.3 L840.0 413.3 L840.8 409.5 L840.9 400.6 L841.0 401.3 L842.0 400.0 L843.2 408.3 L843.1 403.7 L844.1 418.1 L844.0 420.0 L843.8 412.5 L844.6 415.9 L845.3 409.6 L846.0 406.7 L846.5 404.6 L846.0 402.0 L847.7 404.9 L848.0 400.0 L848.7 412.9 L849.4 404.3 L850.1 411.8 L850.0 423.3 L850.9 428.0 L851.2 424.2 L852.0 424.8 L852.0 436.7 L852.4 439.2 L853.4 449.7 L852.8 448.5 L854.0 451.7 L854.3 450.1 L855.7 431.7 L855.3 450.3 L856.0 430.0 L856.9 429.2 L857.3 421.1 L856.6 414.4 L858.0 406.7 L858.3 407.9 L859.0 407.5 L859.8 411.4 L860.0 413.3 L860.2 420.5 L861.8 422.9 L860.8 420.8 L862.0 423.3 L863.1 419.8 L862.4 420.7 L863.4 415.1 L864.0 410.0 L864.9 412.4 L865.7 414.3 L865.3 426.3 L866.0 430.0 L865.9 424.5 L866.7 428.5 L866.6 427.7 L868.0 423.3 L868.9 429.7 L869.7 425.0 L869.6 430.3 L870.0 436.7 L871.0 430.9 L871.0 432.3 L871.2 433.0 L872.0 430.0 L872.6 439.6 L872.5 431.1 L873.6 438.4 L874.0 440.0 L874.0 438.6 L875.0 438.0 L875.8 439.3 L876.0 436.7 L876.2 437.9 L877.4 438.9 L878.1 441.9 L878.0 445.0 L878.7 442.2 L879.5 442.9 L879.5 443.2 L880.0 440.0 L881.2 439.1 L881.3 427.2 L881.8 429.3 L882.0 426.7 L882.5 424.8 L883.8 425.6 L883.8 425.0 L884.0 420.0 L884.6 422.5 L884.9 425.0 L885.3 423.7 L886.0 426.7 L886.6 423.0 L887.0 422.1 L887.1 423.3 L888.0 416.7 L888.9 419.4 L889.1 420.5 L889.6 417.1 L890.0 423.3 L890.2 421.7 L891.4 421.2 L891.6 416.6 L892.0 413.3 L893.1 415.2 L893.6 434.0 L892.3 433.8 L894.0 436.7 L894.3 429.3 L894.7 430.5 L895.4 428.1 L896.0 423.3 L896.3 418.2 L897.8 422.5 L897.8 420.5 L898.0 416.7 L897.9 402.0 L899.2 412.2 L899.2 404.8 L900.0 400.0 L900.7 402.2 L901.0 418.7 L902.5 401.9 L902.0 420.0 L902.2 417.9 L903.3 417.5 L903.2 399.6 L904.0 396.7 L904.5 408.0 L904.7 419.0 L904.9 412.4 L906.0 423.3 L907.4 425.2 L907.2 428.6 L907.1 426.8 L908.0 436.7 L907.6 432.4 L907.9 430.8 L909.7 431.3 L910.0 430.0 L910.9 426.3 L910.8 427.9 L911.7 420.1 L912.0 416.7 L911.4 407.3 L913.0 400.2 L913.3 396.7 L913.0 404.2 L914.6 403.9 L915.2 411.8 L915.3 423.3 L915.0 424.9 L917.3 425.0 L916.5 433.6 L917.3 443.3 L917.6 448.0 L918.0 448.4 L918.1 451.2 L919.3 453.3 L919.7 447.6 L920.0 450.7 L920.7 451.6 L921.3 446.7 L921.9 448.7 L922.3 457.7 L923.7 459.9 L923.3 466.7 L924.0 478.3 L924.7 471.9 L924.9 478.9 L925.3 480.0 L926.3 477.3 L925.8 479.5 L927.3 479.5 L927.3 476.7 L927.7 475.4 L928.0 465.2 L929.4 459.4 L929.3 456.7 L929.3 463.5 L930.9 466.4 L931.1 466.3 L931.3 470.0 L931.7 471.5 L932.0 470.6 L932.9 471.0 L933.3 475.0 L933.6 473.2 L934.1 470.6 L935.7 470.9 L935.3 463.3 L936.7 458.8 L937.2 459.6 L936.4 458.1 L937.3 450.0 L937.2 451.2 L938.0 450.6 L937.9 456.1 L939.3 456.7 L939.6 461.7 L940.7 458.8 L940.5 464.6 L941.3 470.0 L941.1 475.8 L942.8 478.5 L942.5 481.9 L943.3 483.3 L944.0 484.6 L944.8 486.3 L944.4 484.3 L945.3 486.7 L945.8 483.3 L946.6 480.0 L946.8 480.5 L947.3 473.3 L948.4 472.5 L947.6 467.0 L948.6 461.6 L949.3 456.7 L949.8 451.2 L950.3 448.7 L950.8 451.6 L951.3 440.0 L951.6 440.7 L952.0 446.2 L952.8 443.7 L953.3 446.7 L953.1 439.6 L953.8 439.0 L954.6 439.2 L955.3 436.7 L955.6 435.8 L956.8 429.2 L955.8 428.4 L957.3 426.7 L957.2 432.2 L958.1 437.0 L958.0 448.2 L959.3 453.3 L960.0 463.3 L960.8 460.6 L961.1 452.3 L961.4 455.9 L961.7 450.0 L961.7 447.4 L962.6 436.7 L962.9 438.2 L963.3 430.0 L963.7 424.3 L964.1 417.4 L964.5 408.8 L965.3 400.0 L965.1 395.0 L966.3 390.6 L966.8 391.3 L967.3 390.0 L967.7 387.8 L968.2 378.2 L969.2 381.8 L969.3 376.7 L969.3 386.2 L969.9 378.8 L970.9 385.1 L971.3 386.7 L972.3 382.5 L973.0 385.4 L973.1 379.2 L973.3 375.0 L974.7 376.9 L974.6 379.2 L974.5 382.0 L975.3 383.3 L975.6 375.6 L975.8 376.5 L977.1 376.2 L977.3 373.3 L977.6 380.5 L978.9 383.1 L978.7 392.8 L979.3 393.3 L980.2 395.2 L980.6 397.2 L980.6 399.6 L981.3 410.0 L982.2 405.6 L982.6 403.7 L982.4 409.3 L983.3 400.0 L984.9 406.0 L984.7 404.8 L984.9 407.4 L985.3 413.3 L985.7 410.0 L987.1 409.4 L987.0 407.7 L987.3 406.7 L987.8 409.2 L989.0 411.1 L989.5 418.9 L989.3 426.7 L990.6 427.2 L989.8 427.5 L990.9 427.2 L991.3 430.0 L992.2 428.3 L993.1 417.4 L993.0 421.8 L993.3 416.7 L994.3 408.9 L993.7 407.6 L995.0 404.1 L995.3 400.0 L995.6 397.3 L995.7 398.1 L996.6 398.6 L997.3 393.3 L998.0 391.4 L998.9 390.8 L998.4 392.2 L999.3 390.0 L1000.0 394.7 L1000.7 395.8 L1001.5 391.6 L1001.3 396.7 L1001.9 399.6 L1002.6 397.4 L1003.1 403.4 L1003.3 406.7 L1003.9 407.8 L1004.2 410.0 L1004.5 411.6 L1005.3 413.3 L1005.4 419.0 L1006.7 423.0 L1007.4 422.2 L1007.3 423.3 L1007.8 429.9 L1007.7 430.7 L1008.7 431.7 L1009.7 423.0 L1010.4 420.6 L1009.9 425.4 L1010.7 416.7 L1010.8 418.8 L1011.4 419.5 L1012.2 419.0 L1012.7 421.7 L1013.6 412.8 L1013.9 420.3 L1013.9 419.7 L1014.7 410.0 L1015.1 412.8 L1015.8 414.1 L1016.4 411.1 L1016.7 415.0 L1017.3 407.2 L1017.8 414.7 L1017.5 411.8 L1018.7 406.7 L1019.1 402.1 L1019.5 398.5 L1020.5 397.8 L1020.7 393.3 L1021.1 401.9 L1021.9 398.9 L1022.6 394.7 L1022.7 406.7 L1023.6 401.2 L1023.8 404.3 L1024.7 406.1 L1024.7 396.7 L1024.8 396.0 L1025.5 384.2 L1025.9 385.2 L1026.7 383.3 L1027.8 384.9 L1028.9 386.3 L1028.2 385.8 L1028.7 386.7 L1029.2 380.6 L1030.1 385.0 L1029.8 382.9 L1030.7 378.3 L1031.2 375.0 L1031.9 376.7 L1032.0 363.3 L1032.3 375.7 L1033.1 378.5 L1033.7 366.5 L1034.0 383.3 L1034.6 378.9 L1034.3 379.8 L1035.4 382.5 L1036.0 376.7 L1035.6 379.3 L1037.1 380.4 L1036.9 382.4 L1038.0 383.3 L1037.9 380.2 L1039.2 381.8 L1039.0 379.7 L1040.0 373.3 L1039.5 379.4 L1041.0 384.9 L1041.6 386.0 L1042.0 386.7 L1043.1 390.7 L1043.4 397.0 L1043.3 400.0 L1044.3 382.6 L1043.9 387.0 L1045.0 388.8 L1045.3 380.0 L1046.8 374.1 L1046.6 373.9 L1046.9 375.5 L1047.3 370.0 L1047.5 364.4 L1048.0 365.7 L1049.4 367.0 L1049.3 363.3 L1049.2 359.8 L1050.5 357.2 L1051.5 359.3 L1051.3 356.7 L1051.5 356.2 L1051.4 355.3 L1053.0 350.3 L1053.3 350.0 L1053.7 348.9 L1054.3 348.7 L1054.8 345.5 L1055.3 343.3 L1056.0 341.8 L1056.6 342.1 L1057.2 342.5 L1057.3 336.7 L1057.6 329.5 L1057.8 335.2 L1058.4 330.6 L1059.3 326.7 L1059.3 326.3 L1059.5 326.4 L1060.0 315.3 L1061.3 313.3 L1061.9 310.3 L1062.4 311.8 L1063.2 311.1 L1063.3 310.0 L1063.7 305.7 L1064.4 308.8 L1066.0 308.3 L1065.3 305.0 L1066.2 316.3 L1064.7 314.5 L1066.1 315.3 L1067.3 320.0 L1067.2 323.8 L1067.9 330.9 L1068.7 330.5 L1069.3 333.3 L1070.0 334.5 L1069.9 334.4 L1071.3 336.6 L1071.3 340.0 L1072.3 343.8 L1072.5 344.6 L1072.8 340.5 L1073.3 346.7 L1073.9 344.4 L1074.5 344.4 L1074.7 339.3 L1075.3 336.7 L1076.3 342.6 L1075.6 349.9 L1076.8 342.5 L1077.3 353.3 L1077.3 356.8 L1077.9 357.7 L1079.5 356.6 L1079.3 360.0 L1080.4 365.0 L1079.9 363.2 L1081.0 368.7 L1081.3 373.3 L1081.9 373.7 L1082.2 374.8 L1083.0 378.5 L1083.3 380.0 L1084.0 381.3 L1084.2 387.8 L1084.9 387.4 L1085.3 388.3 L1086.0 386.4 L1086.4 386.9 L1086.7 385.3 L1087.3 380.0 L1087.3 374.6 L1088.8 376.5 L1088.9 376.0 L1089.3 366.7 L1090.0 366.0 L1090.4 364.7 L1091.1 364.8 L1091.3 363.3 L1093.0 357.0 L1092.2 362.1 L1092.9 359.7 L1093.3 350.0 L1093.6 349.1 L1094.2 348.9 L1094.7 346.7 L1095.3 349.7 L1096.2 351.6 L1096.6 355.3 L1096.7 360.0 L1096.6 360.3 L1097.8 362.9 L1098.0 362.7 L1098.7 363.3 L1099.6 357.0 L1099.6 361.5 L1099.5 358.3 L1100.7 356.7 L1100.7 358.5 L1102.2 359.2 L1102.0 358.0 L1102.7 360.0 L1102.9 361.9 L1104.0 360.5 L1104.5 364.2 L1104.7 370.0 L1105.1 377.1 L1105.7 374.5 L1107.0 375.0 L1106.7 380.0 L1107.1 383.7 L1107.3 387.8 L1107.9 385.1 L1108.7 390.0 L1109.7 397.3 L1109.6 402.3 L1110.0 405.0 L1110.1 402.8 L1110.6 402.2 L1111.2 391.9 L1112.0 386.7 L1112.7 383.7 L1113.6 385.0 L1114.0 386.3 L1114.0 376.7 L1115.4 372.7 L1115.0 372.7 L1115.2 368.2 L1116.0 365.0 L1116.5 365.5 L1117.0 367.7 L1117.5 366.7 L1118.0 370.0 L1118.5 371.4 L1119.4 377.4 L1119.6 372.5 L1120.0 380.0 L1121.6 376.0 L1121.2 376.4 L1121.1 369.9 L1122.0 366.7 L1121.8 379.5 L1123.0 369.1 L1124.0 377.3 L1124.0 390.0 L1124.3 404.0 L1125.6 391.8 L1125.3 406.7 L1125.9 402.5 L1126.2 404.5 L1126.7 394.9 L1127.3 393.3 L1128.5 385.2 L1128.5 391.6 L1129.1 387.5 L1129.3 383.3 L1130.9 389.8 L1130.0 385.6 L1130.2 398.6 L1131.3 400.0 L1131.8 398.3 L1132.1 397.8 L1133.8 394.8 L1133.3 393.3 L1134.2 394.7 L1134.5 394.8 L1135.4 394.6 L1135.3 400.0 L1135.4 398.7 L1136.5 398.1 L1136.3 394.8 L1137.3 393.3 L1138.0 390.7 L1138.3 383.8 L1138.0 390.5 L1139.3 383.3 L1140.1 388.8 L1140.5 384.6 L1141.1 385.5 L1141.3 390.0 L1142.4 384.8 L1142.1 389.2 L1142.7 388.5 L1143.3 380.0 L1143.3 376.3 L1143.8 375.4 L1144.5 375.7 L1145.3 373.3 L1146.0 368.8 L1146.3 370.5 L1146.6 367.6 L1147.3 366.7 L1147.2 366.0 L1147.7 359.1 L1149.5 351.4 L1149.3 350.0 L1150.4 347.2 L1149.8 347.8 L1150.2 348.8 L1151.3 340.0 L1151.9 340.4 L1152.8 350.4 L1153.3 360.9 L1153.3 363.3 L1154.0 365.9 L1154.7 371.9 L1155.4 367.3 L1155.3 373.3 L1156.1 373.9 L1156.4 375.2 L1156.8 374.0 L1157.3 376.7 L1157.5 382.8 L1158.9 377.9 L1159.1 377.6 L1159.3 383.3 L1160.3 381.5 L1160.3 380.7 L1160.7 380.8 L1161.3 380.0 L1161.2 380.9 L1163.0 389.1 L1161.9 388.0 L1163.3 390.0 L1164.0 387.6 L1164.4 388.5 L1164.8 388.6 L1165.3 386.7 L1166.2 388.3 L1166.9 395.0 L1167.1 391.6 L1167.3 396.7 L1167.2 395.7 L1168.0 392.4 L1169.4 395.9 L1169.3 390.0 L1169.6 379.6 L1170.8 380.1 L1171.1 385.2 L1171.3 376.7 L1171.9 379.2 L1172.4 379.0 L1172.4 381.9 L1173.3 383.3 L1174.4 381.9 L1173.5 378.8 L1175.1 378.7 L1175.3 375.0 L1175.2 375.3 L1177.1 375.6 L1177.0 377.9 L1177.3 383.3 L1177.9 384.4 L1177.2 387.9 L1178.3 389.7 L1179.3 393.3 L1180.5 388.6 L1179.7 391.2 L1180.7 386.8 L1181.3 385.0 L1182.3 382.1 L1182.1 380.3 L1182.5 384.3 L1183.3 380.0 L1182.9 380.3 L1184.6 383.2 L1184.7 383.2 L1185.3 386.7 L1185.9 386.2 L1185.5 386.3 L1187.2 384.8 L1187.3 383.3 L1187.7 384.7 L1188.7 383.8 L1189.5 385.5 L1189.3 386.7 L1189.8 383.1 L1190.8 384.4 L1190.9 384.2 L1191.3 380.0 L1191.2 380.4 L1193.0 381.5 L1193.0 381.8 L1193.3 383.3 L1195.2 384.6 L1193.9 384.0 L1195.0 386.3 L1195.3 390.0 L1196.1 382.9 L1196.3 385.3 L1198.0 385.6 L1197.3 381.7 L1197.8 382.2 L1198.0 384.4 L1198.7 386.1 L1199.3 386.7 L1199.6 385.5 L1199.9 384.4 L1200.9 385.9 L1201.3 383.3 L1202.2 385.9 L1202.3 387.4 L1203.5 386.2 L1203.3 388.3 L1204.0 390.8 L1203.7 392.0 L1205.0 389.1 L1205.3 393.3 L1205.3 393.9 L1205.9 396.2 L1206.5 402.8 L1207.3 406.7 L1207.4 409.9 L1208.4 408.7 L1208.3 412.4 L1209.3 413.3 L1209.5 414.3 L1210.5 414.9 L1210.8 413.9 L1211.3 416.7 L1211.7 416.3 L1211.6 415.3 L1213.5 415.3 L1213.3 415.0 L1213.7 419.2 L1214.7 418.0 L1215.1 416.7 L1215.3 420.0 L1215.9 416.8 L1216.5 419.4 L1216.3 408.2 L1217.3 406.7 L1218.1 402.2 L1218.5 406.1 L1219.2 401.2 L1219.3 398.3 L1220.0 404.0 L1220.4 401.7 L1220.5 406.3 L1221.3 410.0 L1221.3 409.5 L1221.6 406.2 L1223.4 406.7 L1223.3 405.0 L1224.0 415.0 L1223.3 408.1 L1225.1 411.8 L1225.3 416.7 L1225.6 418.8 L1226.1 425.5 L1226.7 425.5 L1227.3 426.7 L1228.6 420.9 L1228.7 424.6 L1229.2 415.2 L1229.3 413.3 L1230.1 417.5 L1229.8 421.7 L1231.0 422.5 L1231.3 423.3 L1232.0 425.7 L1232.9 424.2 L1233.8 423.9 L1233.3 426.7 L1234.0 432.8 L1233.7 427.7 L1234.7 433.3 L1235.3 422.2 L1236.0 429.7 L1236.1 424.1 L1236.7 420.0 L1236.9 422.6 L1237.5 422.7 L1238.2 421.4 L1238.7 423.3 L1239.8 420.8 L1239.4 423.0 L1240.8 422.5 L1240.7 416.7 L1241.3 419.8 L1242.3 430.2 L1241.8 428.8 L1242.7 431.7 L1242.8 424.7 L1244.1 422.0 L1244.3 423.2 L1244.7 416.7 L1246.2 418.6 L1245.5 422.9 L1246.1 422.6 L1246.7 423.3 L1247.0 420.6 L1247.1 422.3 L1247.5 417.8 L1248.7 416.7 L1248.4 418.4 L1249.7 419.3 L1249.5 418.4 L1250.7 420.0 L1252.0 418.3 L1251.6 417.0 L1252.4 413.5 L1252.7 410.0 L1252.4 414.3 L1254.1 411.2 L1253.0 414.7 L1254.7 416.7 L1255.2 416.2 L1255.6 415.6 L1256.4 416.3 L1256.7 413.3 L1257.2 417.1 L1257.7 418.5 L1258.2 414.3 L1258.7 420.0 L1258.3 419.6 L1259.8 418.6 L1260.3 419.1 L1260.7 418.3 L1261.4 419.7 L1262.1 420.6 L1262.5 420.7 L1262.7 423.3 L1262.9 428.1 L1263.9 428.2 L1264.3 427.4 L1264.7 430.0 L1264.8 428.8 L1265.2 429.1 L1266.7 428.6 L1266.7 428.3 L1266.6 428.7 L1268.2 428.6 L1268.0 429.4 L1268.7 430.0 L1269.4 427.6 L1269.4 427.1 L1269.9 427.3 L1270.7 426.7 L1270.7 417.5 L1272.6 420.4 L1272.3 416.2 L1272.7 413.3 L1273.3 418.6 L1273.3 420.2 L1274.7 416.3 L1274.7 430.0 L1275.0 439.0 L1275.7 431.5 L1275.3 434.6 L1276.7 443.3 L1277.8 445.0 L1277.6 445.4 L1278.0 446.7 L1277.8 440.0 L1279.9 442.9 L1279.3 430.0 L1279.9 426.2 L1280.7 421.5 L1280.7 406.7 L1281.4 380.4 L1281.7 387.9 L1282.0 376.7 L1282.5 368.6 L1282.5 352.2 L1283.3 336.7 L1283.7 340.5 L1284.9 352.4 L1284.7 363.3 L1285.1 357.8 L1285.4 341.6 L1286.0 323.3 L1286.5 323.8 L1287.2 340.1 L1287.3 350.0 L1287.8 346.9 L1288.7 344.1 L1288.7 340.0 L1289.2 349.4 L1289.0 362.9 L1290.0 363.3 L1290.3 370.0 L1290.3 372.7 L1292.0 365.2 L1292.0 373.3 L1292.8 367.1 L1293.0 366.8 L1292.8 366.1 L1294.0 360.0 L1294.1 367.4 L1294.4 365.7 L1296.0 371.7 L1296.0 376.7 L1297.0 374.4 L1296.9 366.2 L1296.8 359.2 L1298.0 356.7 L1299.0 378.1 L1299.0 376.7 L1299.5 375.1 L1300.0 381.7 L1299.8 378.8 L1301.2 374.7 L1302.0 369.8 L1302.0 366.7 L1303.0 367.5 L1302.7 370.2 L1303.4 371.6 L1304.0 376.7 L1304.0 376.1 L1304.7 376.1 L1305.8 368.4 L1306.0 366.7 L1306.8 370.7 L1307.1 373.0 L1307.3 374.7 L1308.0 380.0 L1308.8 381.2 L1309.1 381.1 L1309.3 380.4 L1310.0 381.7 L1310.3 380.2 L1311.1 380.3 L1311.6 364.2 L1312.0 360.0 L1312.0 362.3 L1313.4 360.3 L1313.5 376.0 L1314.0 376.7 L1313.6 365.1 L1315.8 366.8 L1315.9 373.7 L1316.0 363.3 L1316.3 366.7 L1316.9 366.2 L1318.1 366.7 L1318.0 370.0 L1318.4 364.5 L1318.5 367.0 L1319.0 369.2 L1320.0 363.3 L1320.7 360.8 L1320.0 356.3 L1321.8 353.7 L1322.0 353.3 L1321.5 347.2 L1322.9 348.6 L1323.5 348.9 L1324.0 346.7 L1325.1 345.8 L1324.8 333.8 L1325.4 334.5 L1326.0 333.3 L1326.2 332.6 L1327.7 321.8 L1327.3 320.0 L1327.2 327.4 L1327.6 329.1 L1328.7 329.8 L1329.3 333.3 L1330.1 339.7 L1330.4 335.2 L1330.7 333.7 L1331.3 340.0 L1331.0 340.6 L1332.3 341.7 L1332.9 340.4 L1333.3 343.3 L1333.8 345.8 L1333.2 347.0 L1334.9 347.8 L1335.3 350.0 L1335.9 350.7 L1336.2 351.5 L1337.5 352.3 L1337.3 353.3 L1337.8 344.3 L1339.5 351.9 L1338.2 352.7 L1339.3 343.3 L1338.9 345.8 L1341.1 345.6 L1341.0 344.2 L1341.3 346.7 L1341.3 343.9 L1342.9 343.3 L1343.2 342.1 L1343.3 340.0 L1343.1 339.2 L1344.7 336.7 L1345.9 337.5 L1345.3 335.0 L1345.8 342.0 L1346.7 335.6 L1347.3 344.3 L1347.3 346.7 L1347.6 347.0 L1349.0 348.7 L1348.8 354.4 L1349.3 355.0 L1348.9 352.5 L1348.9 351.8 L1351.1 351.2 L1351.3 350.0 L1351.7 347.6 L1351.8 342.1 L1352.8 341.5 L1353.3 340.0 L1353.9 347.2 L1354.2 351.7 L1355.0 352.9 L1355.3 360.0 L1355.3 357.3 L1355.6 359.5 L1356.5 357.7 L1357.3 356.7 L1358.2 350.4 L1358.7 350.3 L1358.7 348.2 L1359.3 346.7 L1359.8 349.6 L1359.7 348.1 L1360.7 352.3 L1361.3 353.3 L1361.6 349.0 L1362.2 349.2 L1362.9 348.9 L1363.3 346.7 L1364.2 345.0 L1363.7 343.7 L1365.2 343.1 L1365.3 341.7" stroke="#3b528b" stroke-width="3.3" fill="none" stroke-linejoin="round" stroke-linecap="butt"/>
<path d="M155.7 70.7 L156.6 72.1 L156.9 71.9 L156.8 73.1 L157.3 75.0 L157.8 71.3 L158.5 72.3 L158.6 74.4 L159.0 70.0 L159.0 77.5 L159.6 75.9 L159.6 75.0 L160.7 86.7 L161.0 65.6 L161.4 63.4 L162.0 53.3 L161.8 58.2 L163.0 61.7 L163.3 66.7 L163.5 64.0 L164.3 51.7 L163.8 48.8 L164.2 46.7 L166.1 48.8 L166.0 46.0 L166.8 47.1 L166.7 47.8 L167.3 48.3 L168.0 70.0 L168.7 77.6 L168.9 86.8 L169.2 81.7 L170.0 90.0 L170.4 80.3 L171.3 76.6 L170.8 77.6 L171.7 73.3 L171.2 74.5 L172.7 80.0 L172.0 76.1 L173.3 68.2 L173.0 74.3 L174.3 60.0 L174.5 75.3 L175.3 76.7 L175.5 73.5 L175.7 74.8 L176.7 69.3 L177.3 77.5 L177.7 86.7 L177.0 94.9 L178.9 93.7 L179.1 91.7 L179.3 96.7 L180.5 100.5 L180.1 111.3 L180.7 116.7 L181.0 110.4 L181.1 105.5 L181.1 113.3 L182.3 96.7 L182.7 106.5 L183.4 108.7 L183.7 116.0 L184.0 108.9 L185.0 106.3 L185.0 98.3 L185.2 99.1 L186.1 98.6 L187.3 99.0 L186.7 101.7 L186.9 109.0 L187.8 103.2 L187.7 105.7 L188.7 113.3 L188.9 115.2 L189.5 130.5 L190.5 120.2 L190.7 133.3 L191.5 141.2 L191.6 156.1 L192.1 155.0 L192.7 163.3 L193.4 164.0 L193.6 181.8 L194.0 183.3 L194.3 187.8 L194.5 189.9 L194.9 198.6 L195.7 206.7 L195.4 184.4 L196.5 169.3 L195.9 140.7 L197.3 127.3 L198.2 133.8 L197.9 135.6 L198.9 143.6 L199.0 153.3 L199.9 154.5 L200.3 160.4 L200.3 166.7 L200.6 166.3 L200.9 165.8 L201.9 165.6 L202.0 165.0 L202.1 171.5 L203.3 177.5 L203.3 180.0 L203.6 183.3 L204.7 185.8 L204.4 195.5 L205.3 196.7 L205.6 203.6 L206.8 201.9 L206.4 216.9 L207.4 217.1 L207.7 221.7 L208.1 205.3 L207.8 199.9 L209.4 184.8 L208.9 172.3 L210.0 156.7 L210.1 156.0 L211.2 156.0 L211.3 155.0 L211.4 167.1 L212.6 172.8 L212.8 182.4 L213.0 198.3 L213.3 191.3 L214.0 194.3 L213.5 183.0 L215.3 151.7 L215.3 150.0 L215.6 167.2 L215.4 176.3 L216.7 190.0 L216.7 179.8 L218.1 175.2 L218.3 170.3 L218.7 163.3 L219.0 164.2 L219.5 170.7 L219.8 173.9 L220.7 176.7 L220.6 172.5 L221.2 174.4 L222.0 172.2 L222.3 158.3 L223.1 165.2 L222.7 163.4 L224.1 160.7 L224.0 176.7 L224.2 168.5 L225.8 168.7 L225.3 165.0 L225.9 169.0 L226.4 167.1 L226.4 166.7 L227.0 173.3 L228.1 171.7 L227.4 170.1 L228.2 166.1 L228.7 163.3 L228.4 164.5 L229.6 181.6 L230.5 182.5 L230.3 190.0 L231.0 191.1 L231.2 204.5 L231.7 211.7 L232.2 205.7 L232.8 195.9 L233.0 196.3 L233.7 176.7 L234.4 176.3 L235.0 162.7 L235.7 154.3 L235.7 153.3 L235.9 144.4 L236.9 146.8 L237.3 145.4 L237.3 136.0 L237.3 136.9 L238.3 142.4 L239.0 137.4 L239.0 143.3 L239.0 142.0 L239.3 140.8 L240.3 136.7 L240.9 138.4 L241.2 139.8 L241.9 137.1 L242.0 146.7 L242.5 139.1 L242.8 129.5 L243.6 141.3 L244.3 131.6 L244.3 127.7 L244.6 135.8 L244.7 137.7 L246.1 136.4 L246.0 140.0 L247.0 154.7 L246.1 146.6 L247.3 160.0 L247.1 168.9 L247.6 172.5 L248.9 186.0 L249.0 186.7 L249.5 195.6 L249.8 198.1 L250.3 203.3 L250.9 202.9 L251.0 202.1 L251.7 201.2 L252.0 196.7 L253.0 203.6 L252.1 197.8 L253.3 205.0 L253.6 202.1 L254.1 200.5 L254.0 198.2 L255.0 195.0 L255.2 198.3 L254.8 202.7 L256.3 206.7 L256.9 205.2 L256.8 203.3 L257.9 201.8 L258.0 200.0 L259.1 196.1 L258.4 192.4 L259.3 188.3 L260.1 182.0 L260.5 179.2 L260.8 185.9 L261.0 177.7 L261.4 188.1 L261.7 187.1 L261.8 188.5 L263.0 196.7 L263.0 197.3 L264.0 198.2 L264.3 203.3 L264.6 211.7 L265.6 223.9 L265.3 226.2 L266.0 226.7 L266.7 229.8 L267.3 235.3 L268.0 239.3 L268.2 238.5 L268.3 243.3 L267.8 232.5 L270.0 228.8 L270.3 222.6 L270.3 220.0 L270.7 204.8 L271.4 197.5 L271.9 180.3 L272.3 174.3 L273.1 180.7 L273.9 177.3 L274.7 185.4 L274.0 190.0 L274.5 192.9 L275.0 193.9 L274.7 197.6 L275.7 198.3 L276.2 186.0 L276.2 193.3 L277.0 185.0 L276.4 183.4 L278.1 182.6 L279.2 182.9 L279.0 181.7 L278.4 177.3 L279.6 181.0 L280.6 178.9 L280.7 176.7 L281.7 172.1 L280.8 169.6 L282.8 152.6 L282.3 145.0 L283.2 141.8 L283.0 141.5 L283.7 140.0 L284.6 139.4 L285.0 119.6 L285.0 111.7 L285.1 110.8 L285.9 110.3 L286.5 111.1 L286.7 109.3 L287.7 103.0 L287.5 99.2 L288.1 82.1 L288.7 76.7 L289.7 80.4 L290.1 96.0 L289.8 93.8 L290.3 96.7 L290.6 112.2 L290.5 118.1 L291.7 126.7 L292.7 127.0 L291.8 127.8 L293.7 133.3 L293.3 136.7 L293.7 138.5 L294.3 137.1 L294.8 137.3 L295.3 140.0 L295.1 142.6 L296.1 145.3 L296.7 153.3 L296.7 154.2 L298.5 167.6 L298.0 164.2 L298.7 170.0 L299.0 169.5 L300.1 158.2 L299.6 158.7 L300.3 156.7 L300.4 148.2 L301.5 146.3 L301.7 143.3 L302.4 141.1 L301.9 133.2 L302.5 127.5 L303.3 122.7 L304.3 142.4 L304.3 163.3 L304.7 162.8 L305.2 162.9 L305.2 162.3 L306.0 161.7 L306.8 162.6 L306.6 164.1 L307.9 166.3 L307.7 176.7 L308.3 183.4 L308.6 185.9 L308.2 188.3 L309.3 190.0 L310.1 201.7 L310.3 210.0 L311.1 193.6 L310.5 197.7 L311.4 182.3 L312.0 176.7 L312.6 181.2 L312.7 183.4 L313.6 200.4 L313.7 206.7 L314.0 203.2 L313.6 203.7 L314.8 200.7 L315.3 191.7 L315.6 194.4 L315.3 194.2 L316.7 203.3 L316.8 198.6 L317.3 202.3 L317.7 194.8 L318.7 191.7 L319.1 203.5 L319.1 196.8 L320.0 205.0 L320.3 204.6 L321.4 204.3 L321.4 203.7 L321.7 203.3 L321.7 205.5 L322.0 205.8 L322.8 223.2 L323.3 226.7 L323.2 233.7 L324.5 242.5 L325.0 241.9 L325.3 246.7 L325.5 251.7 L327.0 250.8 L326.4 260.6 L327.0 266.7 L326.9 265.2 L327.5 264.3 L327.8 264.0 L328.7 263.3 L328.1 275.4 L329.1 282.8 L329.4 286.1 L330.3 293.3 L330.9 278.1 L331.4 263.6 L331.7 243.3 L332.5 238.5 L332.0 224.1 L333.2 211.1 L333.3 210.0 L334.3 211.2 L333.8 216.9 L334.7 220.0 L336.0 218.9 L335.1 205.6 L336.0 200.0 L336.9 200.3 L336.8 206.2 L337.5 218.9 L338.0 220.0 L338.2 228.5 L339.0 231.6 L339.3 243.3 L340.0 248.0 L340.3 247.6 L340.6 257.3 L341.0 258.3 L341.9 264.5 L341.9 265.5 L342.4 261.6 L342.7 270.0 L342.9 268.0 L343.8 264.1 L344.1 266.3 L344.3 263.3 L344.9 252.2 L345.2 236.1 L345.3 224.6 L346.0 216.7 L346.6 213.5 L346.6 207.3 L346.9 205.3 L347.7 203.3 L348.3 195.0 L349.1 199.6 L348.6 207.8 L349.7 207.3 L350.0 213.3 L349.3 210.9 L350.8 211.4 L351.3 212.1 L351.7 210.0 L352.2 214.1 L352.7 221.5 L352.7 223.0 L353.3 223.3 L353.7 221.1 L353.4 221.5 L354.8 214.7 L355.3 210.0 L356.4 211.6 L356.3 221.0 L357.7 219.5 L357.3 226.7 L358.1 225.4 L358.9 217.1 L358.7 222.1 L359.3 216.7 L359.1 213.2 L359.8 215.1 L360.6 212.7 L361.3 205.0 L361.9 195.3 L361.7 193.9 L362.9 185.8 L363.0 180.0 L362.8 175.3 L363.4 171.8 L364.3 167.1 L364.7 166.7 L365.0 171.4 L365.7 167.6 L365.7 180.5 L366.3 186.7 L367.6 199.8 L366.5 203.2 L367.7 223.3 L367.7 224.2 L368.1 223.6 L369.3 223.7 L369.3 225.0 L369.9 223.4 L370.1 224.3 L370.5 220.6 L371.0 220.0 L371.7 229.1 L372.0 225.1 L372.8 228.4 L372.7 230.0 L373.0 233.4 L374.7 240.5 L374.5 243.9 L374.3 246.7 L375.1 250.4 L374.7 249.2 L375.5 250.9 L376.0 256.7 L376.6 264.3 L376.6 271.5 L377.4 278.2 L377.7 283.3 L379.1 289.7 L378.7 290.0 L379.4 300.9 L380.4 302.0 L380.0 305.0 L380.0 307.4 L379.9 311.8 L381.8 309.4 L381.7 316.7 L382.2 313.2 L382.0 316.3 L382.6 312.8 L383.3 310.0 L383.7 312.0 L384.2 312.3 L385.3 311.5 L385.3 315.0 L386.0 326.0 L385.7 323.5 L386.1 324.2 L387.0 333.3 L387.8 332.5 L387.8 332.3 L388.3 327.1 L388.7 326.7 L389.3 329.8 L389.2 333.9 L389.0 331.2 L390.3 336.7 L390.1 323.0 L391.1 322.6 L391.3 336.0 L392.0 321.7 L392.3 320.5 L392.4 311.5 L393.3 305.0 L393.7 318.7 L395.2 308.5 L394.8 317.3 L395.0 320.0 L395.0 315.0 L395.8 304.3 L396.4 316.5 L396.7 303.3 L397.6 304.9 L398.1 304.1 L397.5 310.7 L398.3 313.3 L399.0 312.9 L399.3 302.8 L400.2 306.3 L400.0 296.7 L399.2 291.6 L400.7 292.5 L401.4 290.5 L401.7 290.0 L402.5 290.8 L402.4 291.0 L403.6 291.3 L403.3 291.7 L404.3 293.6 L403.8 303.2 L405.2 300.4 L405.3 305.0 L405.7 308.0 L406.6 312.0 L406.7 313.3 L407.0 314.2 L407.6 320.9 L407.4 320.2 L408.3 321.7 L408.6 317.6 L409.2 315.9 L409.7 310.8 L410.0 306.7 L410.6 303.7 L411.0 304.8 L411.5 306.2 L411.7 303.3 L412.9 300.8 L412.8 293.7 L413.2 301.8 L413.0 292.1 L414.0 290.0 L414.7 278.3 L414.7 275.4 L415.9 275.9 L415.4 274.9 L416.7 273.3 L417.1 256.3 L417.6 255.5 L418.2 254.6 L418.7 247.7 L418.4 250.3 L419.4 261.6 L419.3 252.9 L420.7 263.3 L420.5 271.0 L421.8 265.9 L422.0 276.7 L422.7 276.0 L421.6 276.0 L423.1 276.2 L423.7 275.0 L424.5 275.5 L424.0 284.8 L424.9 289.4 L425.3 290.0 L426.3 292.0 L426.7 290.6 L426.7 305.0 L426.2 314.0 L427.6 309.6 L427.9 307.4 L428.7 316.7 L429.2 318.2 L428.7 318.3 L430.6 324.0 L430.7 326.7 L431.6 328.0 L431.0 335.7 L431.9 334.4 L432.7 340.0 L433.0 347.3 L434.2 340.9 L434.5 350.7 L434.7 356.7 L434.8 358.7 L436.1 357.5 L436.4 360.0 L436.7 361.7 L438.4 363.7 L437.8 369.2 L438.3 368.5 L438.7 370.0 L439.0 372.8 L439.0 372.4 L439.9 372.6 L440.3 373.3 L441.9 373.8 L441.3 383.8 L441.6 377.7 L442.0 385.0 L442.5 379.2 L444.1 378.1 L444.3 380.0 L444.0 368.3 L445.8 366.0 L444.4 365.8 L445.6 366.4 L446.0 365.0 L446.2 362.7 L447.8 364.1 L447.4 358.7 L448.0 355.0 L448.4 352.7 L449.1 345.2 L450.4 345.9 L450.0 340.0 L450.7 335.3 L451.2 333.7 L452.3 325.8 L452.0 323.3 L452.6 322.3 L452.4 322.0 L453.5 322.6 L454.0 321.7 L455.4 325.5 L455.1 324.7 L455.6 330.0 L456.0 333.3 L457.0 335.1 L456.3 337.9 L457.4 333.8 L457.7 340.0 L458.3 342.6 L458.2 348.0 L458.3 341.7 L459.3 351.7 L459.6 346.6 L460.1 349.6 L461.1 332.6 L461.3 323.3 L462.0 322.4 L462.3 321.9 L462.7 320.8 L463.3 318.3 L463.8 313.5 L462.8 317.7 L464.1 310.6 L465.0 310.0 L465.2 313.2 L465.7 311.1 L466.7 320.2 L466.7 321.7 L467.6 323.3 L467.9 326.8 L468.6 330.6 L468.7 340.0 L469.0 348.6 L469.0 349.9 L471.4 345.2 L470.7 351.7 L471.4 345.9 L471.7 330.3 L472.7 331.0 L472.7 330.0 L474.3 330.5 L473.8 331.2 L474.0 332.0 L474.7 341.7 L475.1 338.9 L475.9 333.8 L476.4 339.1 L476.7 331.7 L476.5 329.6 L478.0 327.6 L479.0 327.2 L478.7 321.7 L479.4 326.1 L479.4 323.0 L480.5 332.6 L480.7 350.0 L480.8 344.6 L482.2 339.3 L482.4 333.9 L482.7 333.3 L482.4 321.7 L483.5 320.2 L484.6 319.4 L484.7 313.3 L485.0 308.7 L485.9 312.9 L486.3 305.6 L486.7 303.3 L486.9 307.7 L487.5 304.6 L487.4 325.9 L488.7 326.7 L488.9 336.0 L489.5 333.6 L489.9 343.0 L490.7 343.3 L491.3 325.4 L492.0 329.9 L491.6 328.0 L492.7 318.3 L493.2 317.2 L493.7 313.8 L493.9 313.5 L494.7 310.0 L495.6 305.8 L495.6 297.3 L495.7 298.6 L496.7 296.7 L497.2 297.2 L497.6 305.4 L498.4 306.4 L498.7 308.3 L497.8 309.4 L499.7 310.4 L500.2 309.1 L500.7 311.7 L500.6 323.7 L502.1 315.8 L501.7 312.8 L502.7 326.7 L503.6 326.2 L504.0 324.8 L504.3 323.6 L504.7 320.0 L505.1 322.3 L505.8 332.4 L506.3 321.6 L506.7 336.7 L507.1 328.9 L507.6 334.5 L508.1 324.0 L508.7 323.3 L510.1 323.9 L510.1 337.0 L509.9 332.0 L510.7 340.0 L510.2 344.4 L511.1 350.7 L512.3 349.3 L512.7 351.7 L513.3 352.6 L514.5 363.7 L515.0 365.1 L514.7 366.7 L515.0 366.3 L515.3 366.0 L516.0 360.0 L516.7 364.2 L517.0 372.4 L517.8 361.8 L517.7 373.3 L517.9 368.5 L518.8 356.4 L519.2 357.7 L519.3 350.0 L520.5 353.0 L520.5 355.8 L521.3 362.4 L521.3 365.0 L521.7 357.8 L522.0 356.9 L522.3 352.4 L523.3 351.7 L524.5 356.4 L524.7 352.9 L524.5 352.0 L525.3 358.3 L525.9 352.0 L525.5 352.1 L526.9 342.2 L527.3 340.0 L528.8 336.2 L528.0 333.3 L527.6 338.8 L529.3 330.0 L531.1 321.8 L530.4 321.3 L530.4 321.5 L531.3 320.0 L531.2 315.8 L532.7 319.5 L532.4 313.8 L533.3 306.7 L533.6 284.4 L534.3 283.3 L535.0 267.7 L534.8 257.8 L535.7 256.7 L536.3 254.1 L536.0 250.5 L537.0 246.7 L538.4 241.1 L537.6 245.7 L538.4 244.7 L539.0 237.7 L539.0 243.2 L539.9 258.6 L539.8 253.9 L540.7 260.0 L541.2 253.9 L542.2 256.7 L541.7 255.0 L542.3 253.3 L543.2 266.2 L543.9 264.6 L544.1 279.7 L544.6 286.3 L544.7 292.3 L545.0 277.9 L545.7 275.2 L546.0 256.7 L546.9 262.0 L547.0 264.8 L547.0 258.6 L547.7 270.0 L547.8 277.9 L548.8 274.7 L549.6 279.2 L549.7 283.3 L550.0 278.9 L550.4 276.6 L551.1 258.7 L551.4 260.5 L551.7 244.8 L552.3 243.3 L553.1 251.2 L553.3 268.1 L552.9 262.1 L554.3 270.0 L555.2 277.9 L554.8 274.2 L555.9 274.0 L556.0 278.3 L557.2 263.5 L557.6 262.4 L558.0 246.3 L558.0 236.7 L559.2 229.0 L558.5 232.3 L559.1 228.7 L560.0 228.3 L560.2 233.5 L560.8 229.3 L561.6 238.3 L562.0 243.3 L563.0 258.7 L563.6 268.0 L563.3 276.7 L563.8 283.1 L563.7 286.1 L564.8 281.4 L564.9 277.2 L565.7 286.7 L566.0 294.3 L567.7 302.8 L566.6 299.2 L567.7 304.0 L567.9 299.7 L568.4 286.6 L568.9 288.6 L570.0 292.2 L570.0 283.3 L570.3 288.0 L571.0 290.8 L571.1 292.0 L572.0 293.3 L572.8 290.3 L572.7 283.8 L573.3 283.3 L573.8 289.5 L575.0 293.9 L574.9 302.8 L575.3 308.3 L575.8 296.3 L576.3 297.1 L576.4 288.9 L577.3 280.0 L577.3 276.7 L577.9 266.2 L578.7 263.3 L579.7 270.1 L579.3 276.9 L580.6 281.6 L580.7 286.7 L581.4 300.5 L581.7 305.0 L581.9 295.9 L582.3 293.6 L583.0 295.7 L583.7 288.4 L583.7 283.7 L584.3 283.3 L584.1 281.7 L584.5 275.7 L585.5 277.1 L586.0 275.0 L586.7 269.9 L586.5 268.4 L588.1 272.4 L588.0 257.7 L588.2 259.9 L589.1 262.4 L589.5 272.8 L590.0 273.3 L591.8 267.3 L591.4 272.8 L591.5 264.6 L592.0 263.3 L592.3 266.1 L593.0 264.9 L593.5 264.0 L594.0 266.7 L593.7 263.6 L595.1 264.3 L595.8 255.9 L596.1 253.9 L596.7 257.3 L596.7 250.0 L597.8 257.2 L598.0 253.6 L598.3 258.3 L598.7 260.0 L598.6 265.9 L599.0 273.1 L600.0 278.3 L600.4 278.7 L600.5 278.6 L601.5 282.5 L602.0 283.3 L602.8 289.2 L602.8 288.9 L602.9 287.1 L604.0 290.0 L604.8 280.1 L604.9 278.7 L606.2 271.8 L606.0 270.0 L607.0 267.2 L607.4 264.8 L606.9 262.0 L608.0 260.0 L608.4 270.3 L609.4 270.1 L609.6 276.4 L610.0 276.7 L610.1 279.2 L611.2 283.5 L611.3 286.7 L612.0 285.0 L612.3 272.5 L612.4 278.3 L613.3 268.3 L614.2 268.9 L614.3 281.2 L614.2 279.6 L615.0 283.3 L615.1 283.7 L616.3 285.1 L617.0 286.1 L616.3 283.8 L617.3 286.7 L618.2 292.5 L618.3 288.4 L618.7 288.1 L619.5 292.5 L619.0 288.9 L620.0 293.3 L620.3 296.2 L620.4 294.2 L621.3 296.7 L620.6 297.7 L622.9 305.2 L622.7 306.3 L623.3 306.7 L623.2 311.4 L625.2 311.6 L624.6 322.4 L625.3 323.3 L626.1 323.0 L625.9 321.4 L627.3 313.7 L627.3 313.3 L627.7 316.2 L628.5 313.6 L629.2 314.7 L629.3 316.7 L629.8 315.2 L630.8 312.7 L631.2 309.3 L631.3 306.7 L631.7 305.6 L632.1 306.1 L633.1 298.0 L633.3 296.7 L633.7 299.3 L634.7 297.1 L635.7 303.5 L635.3 310.0 L635.5 315.5 L636.2 314.1 L637.1 315.0 L637.3 316.7 L638.8 314.1 L637.8 313.6 L638.8 314.1 L639.3 313.3 L639.9 313.8 L640.1 319.7 L641.9 316.0 L641.3 320.0 L642.8 319.2 L643.0 309.7 L643.4 319.4 L643.3 306.7 L644.0 302.9 L643.7 302.5 L644.8 302.9 L645.0 301.7 L645.4 306.0 L645.5 316.6 L646.6 320.3 L646.7 323.3 L647.4 331.2 L647.5 325.3 L648.5 333.5 L648.7 340.0 L649.2 343.0 L650.0 342.6 L650.2 341.0 L650.7 343.3 L651.9 341.7 L651.7 339.6 L652.1 342.1 L652.7 338.3 L653.5 339.3 L653.7 343.5 L654.0 340.9 L654.7 350.0 L655.2 352.0 L655.8 352.7 L657.3 353.0 L656.7 355.0 L657.8 351.6 L658.4 354.4 L658.3 348.6 L658.7 346.7 L658.9 334.1 L658.9 345.7 L660.1 338.5 L660.7 333.3 L661.3 331.5 L661.2 331.8 L661.4 330.6 L662.7 330.0 L663.2 327.1 L663.3 328.9 L664.6 327.9 L664.7 325.0 L665.3 327.5 L665.3 329.1 L666.1 328.3 L666.7 330.0 L667.9 329.4 L667.8 328.2 L668.0 329.4 L668.7 326.7 L668.5 327.3 L669.1 328.6 L670.1 331.4 L670.7 333.3 L671.7 338.7 L671.6 343.6 L672.0 339.6 L672.7 345.0 L672.8 344.7 L673.6 331.7 L674.7 339.7 L674.7 330.0 L674.3 329.1 L676.0 324.1 L677.0 328.2 L676.7 320.0 L677.3 311.5 L677.6 309.1 L678.5 307.9 L678.7 306.7 L678.3 302.8 L679.7 296.3 L679.6 300.4 L680.3 287.3 L680.5 288.8 L681.0 299.3 L681.8 297.4 L682.0 300.0 L683.0 301.4 L683.8 302.8 L683.1 301.5 L684.0 305.0 L684.0 301.2 L684.6 301.1 L685.4 302.1 L686.0 300.0 L686.2 304.2 L686.6 306.1 L687.4 308.7 L688.0 310.0 L688.5 301.9 L688.7 304.0 L689.7 302.3 L690.0 300.0 L690.3 302.6 L691.0 310.7 L692.6 312.2 L692.0 313.3 L692.7 315.8 L693.6 315.0 L692.9 319.1 L694.0 320.0 L694.5 329.0 L695.0 323.9 L695.1 330.0 L696.0 331.7 L697.1 325.8 L696.7 317.6 L697.1 324.7 L698.0 316.7 L698.6 317.5 L698.9 317.7 L699.4 318.0 L700.0 323.3 L700.5 320.3 L701.2 315.7 L701.0 314.0 L702.0 305.0 L703.2 307.6 L702.9 307.9 L703.2 311.3 L704.0 313.3 L704.5 319.8 L705.3 318.9 L704.9 324.1 L706.0 326.7 L706.4 327.2 L707.3 329.2 L707.9 331.1 L708.0 336.7 L707.6 347.1 L708.4 340.5 L709.4 348.9 L710.0 350.0 L710.7 357.3 L711.7 371.6 L711.9 382.7 L712.0 383.3 L713.1 386.8 L712.3 392.3 L713.4 396.8 L714.0 400.0 L714.9 390.3 L715.3 372.9 L715.0 379.2 L716.0 363.3 L716.2 361.2 L717.4 348.5 L716.7 348.2 L718.0 343.3 L718.8 344.0 L718.8 346.5 L719.5 353.4 L720.0 356.7 L720.1 357.8 L721.6 364.3 L721.7 360.5 L722.0 366.7 L722.1 374.3 L722.3 374.0 L724.2 374.7 L724.0 376.7 L723.3 388.6 L724.6 383.7 L726.1 388.9 L726.0 390.0 L727.2 397.3 L726.6 391.0 L727.8 402.0 L728.0 410.0 L728.1 419.8 L729.4 410.6 L729.8 411.3 L730.0 421.7 L730.4 422.1 L730.8 431.6 L731.3 436.7 L731.4 439.7 L732.9 444.5 L732.7 445.0 L732.5 444.3 L734.3 441.3 L734.0 436.7 L734.4 438.4 L734.6 438.1 L735.3 446.7 L735.2 436.1 L736.2 440.7 L736.7 433.3 L736.6 439.1 L737.1 437.8 L738.0 446.7 L738.4 450.9 L738.3 455.4 L739.3 456.7 L739.6 457.8 L740.1 459.4 L740.7 463.3 L741.1 464.4 L741.2 467.9 L742.0 471.7 L742.6 454.3 L743.3 451.6 L743.3 450.0 L744.5 447.5 L743.5 433.1 L744.7 423.3 L745.6 421.4 L745.7 418.4 L746.2 401.4 L746.7 396.7 L747.6 380.5 L747.4 381.0 L747.8 381.2 L748.7 373.3 L748.9 378.3 L750.2 374.9 L750.3 378.8 L750.7 380.0 L750.9 381.9 L751.4 383.8 L751.9 381.8 L752.7 386.7 L752.3 378.0 L753.4 360.3 L754.6 356.6 L754.7 350.0 L755.1 343.5 L755.7 344.3 L757.0 336.5 L756.7 330.0 L757.4 326.0 L757.4 320.4 L758.1 321.1 L758.7 310.0 L758.7 307.0 L760.4 304.7 L760.3 294.1 L760.7 293.3 L761.4 290.3 L761.5 279.9 L761.9 282.7 L762.7 276.7 L763.2 277.1 L764.4 278.6 L764.2 279.3 L764.7 283.3 L765.8 280.7 L766.6 274.3 L766.5 282.5 L766.7 270.0 L766.6 272.9 L767.8 272.9 L768.7 277.3 L768.7 278.3 L769.2 277.3 L768.8 273.5 L769.5 273.7 L770.7 263.3 L770.9 258.8 L771.1 258.1 L772.2 257.5 L772.7 256.7 L773.3 262.5 L773.7 258.7 L774.1 263.7 L774.7 266.7 L774.2 262.6 L776.6 262.0 L776.1 261.0 L776.7 253.3 L777.7 251.1 L777.2 252.5 L778.5 238.5 L778.7 236.7 L779.3 220.6 L779.9 188.9 L780.0 178.3 L781.0 188.2 L781.2 182.9 L782.3 187.9 L782.0 190.0 L781.5 188.0 L783.1 179.1 L784.3 177.2 L784.0 176.7 L785.1 182.0 L784.9 178.6 L785.4 181.9 L786.0 183.3 L786.6 182.2 L787.1 182.7 L786.2 172.9 L788.0 171.7 L787.9 173.4 L788.4 187.0 L789.7 184.7 L790.0 193.3 L791.0 199.5 L791.7 201.1 L792.0 197.9 L792.0 203.3 L792.3 204.9 L793.3 217.8 L793.2 219.4 L794.0 226.7 L793.5 229.3 L795.7 230.8 L794.8 227.3 L796.0 240.0 L796.4 244.1 L796.7 243.4 L797.4 240.7 L798.0 250.0 L798.6 250.3 L798.6 276.4 L799.3 276.2 L800.0 283.3 L799.9 283.8 L801.0 287.0 L802.6 287.4 L802.0 290.0 L803.0 280.5 L802.8 277.8 L803.7 279.2 L804.0 276.7 L804.4 275.3 L804.6 276.3 L804.9 275.7 L806.0 275.0 L805.6 279.1 L807.6 289.4 L807.3 285.4 L808.0 293.3 L808.5 293.9 L809.9 297.7 L808.6 296.4 L810.0 300.0 L810.7 297.2 L811.4 286.1 L811.1 286.3 L812.0 283.3 L811.9 286.1 L813.8 287.2 L813.8 294.1 L814.0 296.7 L814.6 299.8 L815.1 298.5 L815.2 300.3 L816.0 306.7 L816.2 303.9 L817.0 305.2 L817.4 306.0 L818.0 303.3 L818.7 310.3 L818.7 310.4 L820.0 309.9 L820.0 320.0 L821.0 300.9 L820.7 302.6 L821.0 272.0 L822.0 263.3 L823.1 257.1 L822.5 251.5 L823.5 254.1 L824.0 250.0 L825.2 249.7 L825.0 246.3 L826.8 241.8 L826.0 239.3 L826.9 253.5 L826.9 247.5 L827.5 254.4 L828.0 260.0 L828.2 258.2 L828.6 257.6 L829.8 250.0 L830.0 241.7 L831.1 240.1 L831.1 241.3 L832.1 240.0 L832.0 239.3 L832.9 242.1 L833.2 241.1 L834.1 241.8 L834.0 250.0 L834.9 253.2 L834.7 266.5 L836.3 274.9 L836.0 276.7 L837.4 278.2 L836.6 282.0 L837.7 280.7 L838.0 283.3 L838.1 293.5 L839.1 292.4 L839.3 300.0 L840.7 292.6 L840.8 287.3 L840.4 267.7 L841.3 263.3 L841.8 255.6 L843.1 262.3 L842.5 261.2 L843.3 253.3 L844.8 259.0 L844.6 266.2 L844.2 263.4 L845.3 276.7 L845.7 271.9 L846.3 275.1 L847.9 270.8 L847.3 266.7 L847.1 266.3 L848.7 262.9 L848.9 258.5 L849.3 256.7 L848.8 266.5 L850.5 276.8 L850.6 280.8 L851.3 283.3 L852.6 284.7 L852.9 291.2 L852.1 299.8 L853.3 301.7 L853.5 296.1 L853.8 289.2 L854.9 285.4 L855.3 283.3 L856.1 277.1 L856.1 278.6 L857.6 280.5 L857.3 263.3 L857.8 253.2 L858.5 256.1 L859.6 254.6 L859.3 252.7 L860.8 253.5 L861.2 253.5 L861.3 262.9 L861.3 263.3 L862.0 266.6 L862.3 264.5 L862.8 265.6 L863.3 270.0 L864.2 267.6 L864.2 268.8 L865.3 268.3 L865.3 265.0 L865.7 265.7 L866.3 277.3 L866.9 279.4 L867.3 283.3 L868.2 286.0 L868.7 295.6 L868.7 304.0 L869.3 310.0 L869.9 319.4 L870.6 318.8 L871.3 318.4 L871.3 320.0 L871.4 327.8 L873.0 327.0 L872.7 331.9 L873.3 336.7 L874.3 342.0 L874.3 341.5 L874.5 349.3 L875.3 356.7 L875.6 366.0 L876.5 367.1 L877.1 374.4 L877.3 376.7 L877.5 374.3 L878.7 351.7 L878.7 366.0 L879.3 350.0 L880.2 345.7 L880.3 335.8 L881.1 334.0 L881.3 331.7 L882.6 335.1 L882.0 332.0 L882.9 332.8 L883.3 343.3 L883.7 343.9 L883.9 346.0 L885.8 344.7 L885.3 346.7 L885.4 347.6 L886.4 348.4 L887.0 347.2 L887.3 350.0 L888.2 347.9 L889.1 346.4 L888.8 344.8 L889.3 343.3 L889.4 348.4 L890.5 352.5 L891.0 351.2 L891.3 353.3 L891.3 361.1 L892.1 356.3 L893.1 361.1 L893.3 363.3 L894.3 364.7 L894.4 379.1 L895.1 368.4 L895.3 380.0 L895.4 376.8 L896.1 364.2 L897.0 358.2 L897.3 356.7 L898.0 362.9 L898.3 357.0 L899.7 361.7 L899.3 363.3 L900.1 357.8 L900.9 355.0 L901.1 351.0 L901.3 350.0 L902.1 350.5 L902.3 352.2 L903.2 351.4 L903.3 353.3 L905.0 344.1 L904.2 349.0 L904.4 340.4 L905.3 338.3 L906.4 351.7 L905.9 355.9 L905.9 341.9 L907.3 356.7 L907.6 359.4 L907.6 357.6 L908.5 372.1 L909.3 373.3 L910.4 373.0 L910.1 367.4 L910.2 372.8 L911.3 366.7 L911.3 363.1 L912.1 362.3 L912.6 362.4 L913.3 360.0 L913.5 370.7 L914.6 367.6 L914.5 367.4 L915.3 376.7 L915.6 377.7 L916.0 382.8 L917.1 377.8 L917.3 383.3 L917.5 384.9 L918.8 385.3 L918.9 388.7 L919.3 390.0 L919.6 389.3 L920.8 386.9 L921.2 384.9 L921.3 383.3 L921.5 386.5 L923.0 384.0 L922.8 388.3 L923.3 393.3 L924.4 393.8 L925.0 396.4 L925.3 397.9 L925.3 406.7 L926.6 397.9 L926.0 399.1 L925.8 394.7 L927.3 390.0 L928.1 387.0 L927.8 384.4 L929.4 386.7 L929.3 376.7 L929.7 379.5 L930.0 378.9 L930.3 379.5 L931.3 380.0 L931.9 381.3 L931.8 382.5 L933.0 392.1 L933.3 396.7 L934.0 395.6 L934.3 393.9 L934.4 395.4 L935.3 393.3 L936.2 399.3 L936.1 399.2 L936.8 398.6 L937.3 403.3 L937.1 403.8 L938.1 409.0 L938.9 408.5 L939.3 410.0 L939.9 413.0 L940.1 410.8 L941.0 412.5 L941.3 413.3 L942.3 408.6 L941.8 410.8 L943.0 411.1 L943.3 406.7 L944.3 414.3 L943.8 407.7 L944.8 414.3 L945.3 416.7 L945.6 415.4 L946.0 410.4 L946.5 411.6 L947.3 410.0 L948.2 400.9 L947.8 392.2 L949.2 388.0 L949.3 376.7 L949.7 367.1 L949.9 359.6 L950.2 359.9 L951.3 358.3 L952.7 359.4 L952.1 361.6 L952.9 362.7 L953.3 363.3 L952.9 362.0 L953.8 359.1 L954.8 357.3 L955.3 356.7 L954.7 367.5 L956.9 365.8 L956.3 368.6 L957.3 370.0 L958.1 366.6 L957.3 365.5 L958.5 367.9 L959.3 363.3 L959.0 365.5 L960.9 365.1 L961.0 368.2 L961.3 373.3 L961.8 370.0 L962.2 370.0 L963.0 371.6 L963.3 366.7 L964.5 359.9 L964.9 351.5 L964.7 334.2 L965.3 330.0 L965.5 329.5 L966.3 314.6 L967.0 314.5 L967.3 313.3 L967.6 318.6 L968.2 315.0 L968.6 315.8 L969.3 320.0 L970.1 317.7 L970.2 315.7 L970.8 315.4 L971.3 306.7 L971.8 303.0 L972.5 301.8 L972.7 300.0 L972.4 316.2 L973.1 311.3 L974.0 303.0 L974.7 316.7 L974.4 324.7 L976.5 320.4 L976.0 327.3 L976.7 330.0 L977.2 335.9 L977.3 331.3 L977.8 337.1 L978.7 340.0 L978.9 341.6 L979.6 343.1 L979.7 345.2 L980.7 350.0 L981.6 351.4 L981.5 356.5 L982.1 359.5 L982.0 357.1 L982.1 357.3 L983.3 361.7 L983.7 356.8 L983.6 346.4 L984.0 342.1 L985.3 340.0 L985.3 342.5 L985.9 342.2 L987.1 342.2 L987.3 343.3 L987.6 341.7 L988.4 327.2 L988.7 323.3 L988.4 324.4 L989.8 325.7 L990.3 341.7 L990.7 343.3 L991.6 342.2 L991.6 338.2 L992.0 337.1 L992.7 336.7 L993.2 331.5 L993.7 324.7 L994.0 329.1 L994.7 320.0 L994.7 319.4 L996.4 310.7 L996.7 311.5 L996.7 310.0 L996.1 302.4 L997.5 304.4 L998.5 306.4 L998.7 300.0 L998.8 303.3 L999.9 304.7 L999.9 303.8 L1000.7 305.0 L1000.9 303.0 L1001.0 290.5 L1002.7 289.1 L1002.7 283.3 L1002.9 277.3 L1003.5 274.0 L1004.1 279.0 L1004.7 271.7 L1005.6 270.8 L1005.3 269.9 L1006.0 268.3 L1006.3 273.1 L1007.0 269.9 L1008.0 276.2 L1008.0 276.7 L1008.6 277.3 L1007.7 289.4 L1009.4 295.5 L1010.0 296.7 L1011.3 291.6 L1011.1 295.1 L1012.0 293.5 L1012.0 290.0 L1012.5 284.0 L1013.5 286.8 L1013.5 288.8 L1014.0 283.3 L1014.2 280.9 L1015.3 276.9 L1015.7 274.9 L1016.0 273.3 L1016.6 274.4 L1017.2 277.1 L1016.8 279.5 L1018.0 281.7 L1018.9 268.4 L1018.8 251.5 L1020.0 250.7 L1020.0 243.3 L1020.2 230.6 L1021.0 236.4 L1022.0 234.2 L1022.0 230.0 L1023.1 238.6 L1023.3 243.5 L1023.4 243.1 L1024.0 250.0 L1024.7 252.8 L1025.5 251.5 L1025.2 262.6 L1026.0 263.3 L1025.7 253.1 L1026.7 234.5 L1027.2 222.4 L1028.0 220.0 L1028.2 220.5 L1028.4 221.1 L1029.7 222.5 L1030.0 226.7 L1031.0 220.1 L1030.7 212.5 L1032.1 218.8 L1032.0 211.7 L1032.9 221.0 L1033.2 212.9 L1032.5 224.2 L1034.0 228.3 L1035.5 232.8 L1035.1 229.9 L1035.7 234.8 L1036.0 240.0 L1036.9 243.5 L1037.3 244.2 L1037.9 247.6 L1038.0 251.7 L1038.4 245.3 L1038.0 248.0 L1039.3 249.5 L1040.0 243.3 L1039.8 244.4 L1040.6 247.4 L1042.2 252.5 L1042.0 253.3 L1042.2 254.2 L1042.9 259.6 L1042.6 267.1 L1044.0 268.3 L1044.5 265.6 L1044.3 253.4 L1046.0 257.0 L1046.0 246.7 L1046.8 250.5 L1047.1 256.3 L1047.0 255.3 L1048.0 256.7 L1047.4 255.3 L1049.7 255.1 L1049.1 255.1 L1050.0 246.7 L1050.7 242.5 L1051.2 237.4 L1052.2 238.7 L1052.0 236.7 L1052.2 237.1 L1053.5 246.1 L1052.9 243.4 L1054.0 248.3 L1053.8 250.9 L1054.5 251.0 L1054.8 251.9 L1056.0 253.3 L1056.7 249.1 L1057.5 244.9 L1057.1 245.9 L1058.0 243.3 L1058.5 240.1 L1058.7 237.6 L1058.6 239.2 L1060.0 236.7 L1060.9 243.0 L1062.0 244.8 L1061.5 245.5 L1062.0 246.7 L1062.7 243.4 L1062.6 244.1 L1063.3 245.2 L1064.0 236.7 L1065.1 239.1 L1065.3 238.3 L1065.8 237.0 L1066.0 246.7 L1067.0 240.8 L1066.7 238.3 L1067.6 237.2 L1068.0 235.0 L1068.3 236.8 L1068.8 242.1 L1069.6 246.9 L1070.0 250.0 L1071.0 254.2 L1070.6 251.6 L1071.2 255.7 L1072.0 260.0 L1072.8 254.8 L1072.9 247.1 L1073.4 245.6 L1074.0 243.3 L1075.0 232.4 L1075.3 235.2 L1075.2 231.3 L1076.0 227.3 L1076.1 228.9 L1076.6 228.6 L1077.5 227.8 L1078.0 230.0 L1078.9 233.6 L1079.2 233.7 L1079.3 234.4 L1080.0 236.7 L1080.3 222.7 L1080.3 224.6 L1081.3 243.3 L1081.5 244.6 L1083.0 245.3 L1082.5 247.1 L1083.3 250.0 L1084.4 250.8 L1084.6 250.5 L1084.6 251.6 L1085.3 253.3 L1085.5 256.0 L1086.6 262.6 L1086.4 262.3 L1087.3 263.3 L1087.5 264.2 L1088.3 265.8 L1088.8 266.6 L1089.3 268.3 L1089.9 266.1 L1090.4 261.1 L1091.2 262.2 L1091.3 260.0 L1092.1 259.5 L1092.3 249.8 L1092.4 252.8 L1093.3 246.7 L1092.7 240.0 L1094.8 245.7 L1095.9 234.9 L1095.3 230.0 L1095.9 219.0 L1096.1 224.7 L1097.3 229.5 L1097.3 218.3 L1097.4 221.1 L1098.3 221.7 L1098.2 222.6 L1099.3 223.3 L1100.3 225.3 L1100.3 226.0 L1099.6 226.8 L1101.3 228.3 L1101.1 228.6 L1102.6 229.3 L1103.4 228.6 L1103.3 230.0 L1103.4 226.1 L1104.4 229.5 L1105.4 227.3 L1105.3 223.3 L1106.0 211.1 L1106.7 218.6 L1107.2 213.7 L1107.3 210.0 L1107.4 214.8 L1108.9 212.5 L1109.1 211.0 L1109.3 223.3 L1109.0 217.6 L1110.5 214.1 L1111.2 221.1 L1111.3 213.3 L1111.6 210.6 L1112.3 206.0 L1112.4 210.3 L1113.3 203.3 L1114.0 199.6 L1114.5 199.5 L1115.2 198.0 L1115.3 196.7 L1115.8 188.1 L1116.3 193.8 L1117.3 189.1 L1117.3 186.7 L1117.9 187.1 L1118.6 187.6 L1118.5 188.0 L1119.3 188.3 L1119.8 195.9 L1120.4 194.7 L1120.9 190.3 L1121.3 200.0 L1121.2 201.7 L1122.3 200.6 L1122.7 202.2 L1123.3 203.3 L1124.1 197.8 L1124.0 183.6 L1125.2 184.1 L1125.3 180.0 L1125.9 185.9 L1126.1 182.8 L1127.6 185.4 L1127.3 186.7 L1127.6 190.1 L1128.3 201.7 L1128.4 198.1 L1129.3 203.3 L1129.7 205.9 L1129.4 206.3 L1130.6 206.1 L1131.3 206.7 L1132.1 211.6 L1133.0 213.7 L1132.7 208.5 L1133.3 216.7 L1134.2 217.3 L1134.6 217.9 L1135.3 219.4 L1135.3 233.3 L1135.1 243.9 L1136.1 241.7 L1137.2 236.3 L1137.3 250.0 L1138.3 251.2 L1139.1 259.6 L1139.2 257.3 L1139.3 263.3 L1139.7 263.0 L1140.4 261.8 L1140.9 260.8 L1141.3 260.0 L1142.3 261.5 L1141.7 282.6 L1142.7 278.1 L1143.3 283.3 L1144.2 275.9 L1144.5 280.2 L1145.6 271.6 L1145.3 270.0 L1145.5 264.7 L1146.7 259.4 L1146.9 260.3 L1147.3 256.7 L1148.0 250.9 L1149.1 251.4 L1148.4 248.9 L1149.3 246.7 L1150.0 242.3 L1150.5 240.6 L1149.9 238.1 L1151.3 235.0 L1152.4 236.1 L1152.0 238.8 L1153.0 237.6 L1153.3 240.0 L1154.0 244.1 L1154.1 244.5 L1154.6 243.4 L1155.3 246.7 L1155.4 249.1 L1155.8 249.2 L1157.1 254.2 L1157.3 256.7 L1157.7 257.6 L1158.4 262.7 L1157.6 259.7 L1159.3 263.3 L1160.1 255.1 L1160.0 257.2 L1161.1 258.0 L1161.3 253.3 L1161.9 255.7 L1162.1 256.2 L1163.0 253.7 L1163.3 260.0 L1163.5 263.2 L1164.8 265.7 L1164.9 267.5 L1165.3 273.3 L1164.7 272.5 L1166.2 264.3 L1167.2 264.6 L1167.3 263.3 L1168.1 264.4 L1168.2 277.6 L1169.5 277.7 L1169.3 280.0 L1169.8 278.9 L1170.0 265.5 L1171.0 266.9 L1171.3 263.3 L1171.8 267.5 L1172.6 263.9 L1172.8 275.0 L1173.3 276.7 L1174.2 276.0 L1174.5 273.7 L1174.5 276.0 L1175.3 273.3 L1175.5 276.6 L1175.5 273.6 L1177.9 286.3 L1177.3 288.3 L1178.5 283.5 L1178.2 287.3 L1178.6 284.7 L1179.3 276.7 L1180.2 264.9 L1180.2 268.3 L1181.3 270.8 L1181.3 263.3 L1182.0 262.0 L1182.0 262.8 L1182.6 263.0 L1183.3 260.0 L1184.3 259.5 L1183.5 258.7 L1184.7 254.5 L1185.3 253.3 L1185.8 248.6 L1186.4 249.6 L1187.0 250.3 L1187.3 246.7 L1187.5 247.7 L1188.2 247.6 L1188.3 248.9 L1189.3 250.0 L1189.4 245.6 L1190.7 239.7 L1191.0 239.1 L1191.3 236.7 L1192.5 233.1 L1192.5 233.0 L1192.7 230.7 L1193.3 230.0 L1194.2 232.7 L1194.8 232.0 L1194.5 230.3 L1195.3 233.3 L1195.7 234.7 L1196.2 234.7 L1197.9 233.7 L1197.3 236.7 L1198.7 231.2 L1198.4 234.0 L1198.9 229.9 L1199.3 226.7 L1199.4 230.6 L1200.8 234.7 L1201.8 228.6 L1201.3 236.7 L1201.3 226.9 L1203.1 234.9 L1203.1 224.5 L1203.3 221.7 L1204.2 222.4 L1204.8 222.4 L1204.6 222.2 L1205.3 223.3 L1206.1 232.6 L1205.7 231.1 L1207.5 240.3 L1207.3 243.3 L1207.2 246.3 L1208.5 245.4 L1208.8 244.0 L1209.3 246.7 L1210.6 247.9 L1210.0 248.6 L1211.4 249.3 L1211.3 256.7 L1212.1 257.6 L1213.0 258.5 L1212.5 269.7 L1213.3 270.0 L1214.0 268.9 L1213.9 265.2 L1214.9 268.0 L1215.3 260.0 L1215.9 250.6 L1215.8 244.9 L1216.1 243.7 L1217.3 230.0 L1217.0 228.9 L1218.9 214.1 L1218.9 216.2 L1219.3 213.3 L1220.5 215.0 L1220.7 213.6 L1221.4 215.7 L1221.3 216.7 L1221.1 214.5 L1222.0 215.0 L1223.4 212.6 L1223.3 205.0 L1224.7 206.0 L1224.6 205.5 L1224.7 206.9 L1225.3 216.7 L1225.2 220.5 L1226.8 225.3 L1227.3 222.6 L1227.3 226.7 L1228.2 224.1 L1228.1 211.7 L1228.3 219.5 L1229.3 206.7 L1230.2 202.2 L1229.8 202.0 L1230.5 199.2 L1231.3 198.3 L1231.6 200.7 L1232.1 210.7 L1232.5 210.8 L1233.3 213.3 L1234.1 209.9 L1234.2 210.8 L1235.3 204.5 L1235.3 203.3 L1235.2 203.7 L1236.6 209.5 L1236.6 207.9 L1237.3 210.0 L1238.4 206.8 L1238.3 207.4 L1239.6 206.3 L1239.3 200.0 L1240.2 201.0 L1240.1 204.2 L1240.9 205.6 L1241.3 206.7 L1242.2 209.3 L1242.7 216.0 L1242.8 212.4 L1243.3 216.7 L1244.0 214.3 L1244.3 213.9 L1245.4 214.7 L1245.3 210.0 L1246.4 212.3 L1247.5 213.1 L1246.7 211.6 L1247.3 216.7 L1248.3 220.3 L1247.6 221.1 L1248.3 220.3 L1249.3 223.3 L1249.7 228.7 L1250.0 228.5 L1250.3 229.5 L1251.3 230.0 L1251.1 233.6 L1252.8 232.1 L1252.4 235.2 L1253.3 236.7 L1254.3 237.9 L1254.5 245.8 L1254.8 245.3 L1255.3 246.7 L1255.8 247.6 L1256.8 247.0 L1257.8 247.2 L1257.3 250.0 L1257.7 254.9 L1259.1 254.1 L1258.3 256.4 L1259.3 256.7 L1259.9 259.8 L1259.7 258.2 L1260.9 259.6 L1261.3 266.7 L1262.3 264.4 L1262.6 261.8 L1263.0 261.4 L1263.3 260.0 L1264.5 259.3 L1264.2 259.4 L1264.2 255.8 L1265.3 253.3 L1266.1 255.3 L1266.1 258.0 L1267.0 259.6 L1267.3 260.0 L1267.4 259.4 L1268.3 258.9 L1268.8 258.6 L1269.3 256.7 L1270.5 254.7 L1270.0 246.6 L1271.1 242.4 L1271.3 240.0 L1271.9 236.8 L1273.0 233.7 L1272.5 234.9 L1273.3 230.0 L1274.3 233.0 L1274.4 236.3 L1275.1 238.7 L1275.3 246.7 L1276.4 248.5 L1275.8 247.1 L1277.2 247.5 L1277.3 250.0 L1278.5 236.5 L1278.1 237.1 L1278.2 235.1 L1279.3 230.0 L1280.5 213.9 L1280.6 208.3 L1281.0 207.5 L1281.3 190.0 L1282.1 182.8 L1282.6 187.4 L1283.7 168.0 L1283.3 163.3 L1283.3 161.5 L1285.4 145.8 L1284.2 125.5 L1285.3 123.3 L1285.6 119.8 L1286.9 100.6 L1286.7 99.3 L1287.3 107.7 L1287.7 125.1 L1288.0 126.7 L1289.5 127.7 L1289.0 144.9 L1288.9 142.3 L1290.0 150.0 L1289.9 156.3 L1290.2 156.0 L1291.0 158.3 L1292.0 160.0 L1292.8 161.8 L1293.3 167.6 L1293.4 164.0 L1294.0 173.3 L1294.6 168.2 L1295.0 172.5 L1295.6 161.6 L1296.0 160.0 L1296.2 162.5 L1296.8 179.8 L1297.3 182.5 L1298.0 183.3 L1298.6 171.6 L1298.9 173.3 L1300.3 164.8 L1300.0 156.7 L1300.7 166.0 L1301.4 170.1 L1301.6 180.2 L1302.0 193.3 L1302.8 181.5 L1303.5 178.5 L1303.8 166.3 L1304.0 156.7 L1304.1 172.3 L1305.4 160.9 L1305.6 172.6 L1306.0 176.7 L1306.4 182.0 L1307.2 182.1 L1307.4 181.8 L1308.0 183.3 L1308.3 183.7 L1308.2 192.0 L1309.0 197.7 L1310.0 200.0 L1310.8 206.2 L1310.9 200.7 L1312.0 206.4 L1312.0 206.7 L1312.7 208.3 L1312.9 212.9 L1313.3 213.0 L1314.0 213.3 L1314.0 208.8 L1315.3 204.0 L1315.7 208.3 L1316.0 203.3 L1316.7 204.4 L1316.4 217.3 L1317.0 209.9 L1318.0 220.0 L1318.6 222.4 L1319.4 224.5 L1319.6 224.2 L1320.0 228.3 L1320.9 222.9 L1320.3 218.1 L1321.7 218.9 L1322.0 216.7 L1322.8 211.8 L1322.5 212.7 L1323.6 207.2 L1324.0 206.7 L1324.1 205.6 L1324.5 199.9 L1325.9 204.8 L1326.0 193.3 L1327.2 188.6 L1327.4 191.0 L1327.5 189.5 L1328.0 183.3 L1328.3 181.8 L1329.1 182.6 L1329.5 182.3 L1330.0 180.0 L1331.2 178.1 L1330.5 170.0 L1331.0 177.5 L1332.0 166.7 L1333.2 163.3 L1332.7 163.3 L1333.4 163.1 L1334.0 161.7 L1333.6 162.2 L1334.4 168.3 L1335.1 177.3 L1336.0 186.7 L1336.8 195.0 L1337.8 190.5 L1336.7 198.9 L1338.0 203.3 L1339.3 193.2 L1338.9 196.1 L1339.4 188.4 L1340.0 186.7 L1340.7 194.1 L1340.7 190.6 L1342.0 191.6 L1342.0 196.7 L1342.4 190.6 L1343.1 190.5 L1344.7 186.2 L1344.0 183.3 L1345.2 189.2 L1344.3 185.1 L1345.3 191.4 L1346.0 193.3 L1347.2 184.9 L1346.3 181.1 L1347.7 192.5 L1348.0 180.0 L1349.0 183.3 L1348.8 180.4 L1349.5 186.3 L1350.0 190.0 L1350.1 185.5 L1350.5 176.9 L1351.0 178.2 L1352.0 175.0 L1353.2 179.9 L1352.9 190.5 L1353.2 189.8 L1354.0 193.3 L1354.8 194.2 L1354.6 197.9 L1355.1 195.8 L1356.0 203.3 L1356.6 203.7 L1358.3 208.3 L1357.1 214.1 L1358.0 216.7 L1358.2 218.4 L1359.0 224.8 L1359.5 229.3 L1360.0 230.0 L1360.4 232.1 L1361.2 231.9 L1361.5 233.0 L1362.0 233.3 L1362.8 238.2 L1363.3 239.6 L1363.3 237.9 L1364.0 241.7 L1365.0 239.4 L1365.5 233.5 L1365.3 231.7" stroke="#21908c" stroke-width="3.3" fill="none" stroke-linejoin="round" stroke-linecap="butt"/>
</svg>
</body></html>
